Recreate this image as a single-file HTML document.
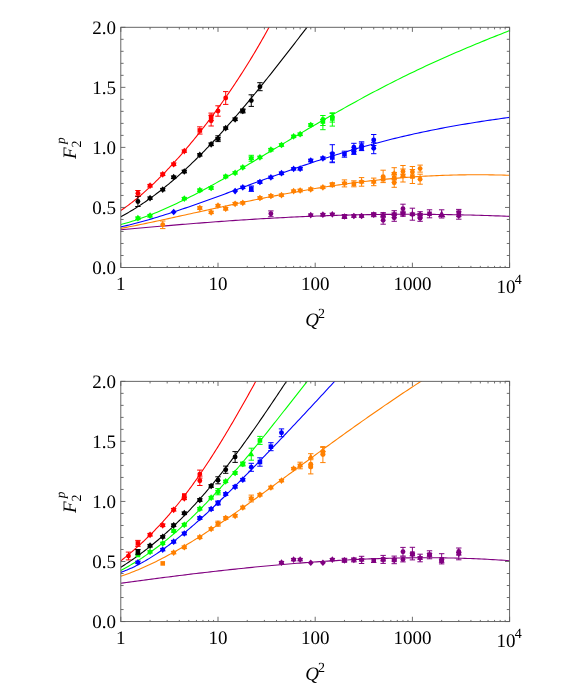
<!DOCTYPE html>
<html><head><meta charset="utf-8"><title>F2p</title>
<style>html,body{margin:0;padding:0;background:#fff}svg{display:block;will-change:transform}text{text-rendering:geometricPrecision}body{font-family:"Liberation Serif",serif}</style>
</head><body>
<svg width="581" height="686" viewBox="0 0 581 686" font-family="'Liberation Serif', serif" fill="#000">
<clipPath id="c1"><rect x="120.80" y="27.30" width="388.80" height="240.20"/></clipPath>
<g clip-path="url(#c1)">
<polyline points="120.80,229.79 123.60,229.54 126.39,229.28 129.19,229.03 131.99,228.78 134.79,228.53 137.58,228.28 140.38,228.03 143.18,227.78 145.97,227.53 148.77,227.28 151.57,227.04 154.37,226.79 157.16,226.55 159.96,226.31 162.76,226.07 165.55,225.83 168.35,225.59 171.15,225.35 173.95,225.12 176.74,224.89 179.54,224.65 182.34,224.42 185.13,224.20 187.93,223.97 190.73,223.75 193.53,223.52 196.32,223.30 199.12,223.08 201.92,222.86 204.71,222.65 207.51,222.44 210.31,222.23 213.11,222.02 215.90,221.81 218.70,221.60 221.50,221.40 224.29,221.20 227.09,221.00 229.89,220.81 232.68,220.62 235.48,220.42 238.28,220.24 241.08,220.05 243.87,219.87 246.67,219.69 249.47,219.51 252.26,219.33 255.06,219.16 257.86,218.99 260.66,218.82 263.45,218.66 266.25,218.49 269.05,218.33 271.84,218.18 274.64,218.02 277.44,217.87 280.24,217.72 283.03,217.58 285.83,217.44 288.63,217.30 291.42,217.16 294.22,217.03 297.02,216.90 299.82,216.77 302.61,216.64 305.41,216.52 308.21,216.40 311.00,216.29 313.80,216.18 316.60,216.07 319.40,215.96 322.19,215.86 324.99,215.76 327.79,215.66 330.58,215.57 333.38,215.48 336.18,215.39 338.98,215.31 341.77,215.23 344.57,215.15 347.37,215.08 350.16,215.01 352.96,214.94 355.76,214.87 358.56,214.81 361.35,214.76 364.15,214.70 366.95,214.65 369.74,214.60 372.54,214.56 375.34,214.52 378.14,214.48 380.93,214.44 383.73,214.41 386.53,214.39 389.32,214.36 392.12,214.34 394.92,214.32 397.72,214.31 400.51,214.30 403.31,214.29 406.11,214.28 408.90,214.28 411.70,214.28 414.50,214.29 417.29,214.30 420.09,214.31 422.89,214.32 425.69,214.34 428.48,214.36 431.28,214.39 434.08,214.42 436.87,214.45 439.67,214.48 442.47,214.52 445.27,214.56 448.06,214.61 450.86,214.65 453.66,214.70 456.45,214.76 459.25,214.81 462.05,214.87 464.85,214.94 467.64,215.00 470.44,215.07 473.24,215.14 476.03,215.22 478.83,215.30 481.63,215.38 484.43,215.46 487.22,215.55 490.02,215.64 492.82,215.73 495.61,215.83 498.41,215.92 501.21,216.02 504.01,216.13 506.80,216.24 509.60,216.35" fill="none" stroke="#800080" stroke-width="1.1"/>
<polyline points="120.80,228.44 123.60,227.90 126.39,227.36 129.19,226.80 131.99,226.24 134.79,225.68 137.58,225.11 140.38,224.54 143.18,223.96 145.97,223.38 148.77,222.80 151.57,222.21 154.37,221.61 157.16,221.02 159.96,220.42 162.76,219.82 165.55,219.21 168.35,218.61 171.15,218.00 173.95,217.39 176.74,216.78 179.54,216.16 182.34,215.55 185.13,214.93 187.93,214.32 190.73,213.70 193.53,213.08 196.32,212.46 199.12,211.85 201.92,211.23 204.71,210.61 207.51,210.00 210.31,209.38 213.11,208.77 215.90,208.16 218.70,207.54 221.50,206.93 224.29,206.33 227.09,205.72 229.89,205.12 232.68,204.52 235.48,203.92 238.28,203.32 241.08,202.73 243.87,202.14 246.67,201.55 249.47,200.97 252.26,200.39 255.06,199.81 257.86,199.24 260.66,198.67 263.45,198.10 266.25,197.54 269.05,196.98 271.84,196.43 274.64,195.89 277.44,195.34 280.24,194.81 283.03,194.27 285.83,193.75 288.63,193.23 291.42,192.71 294.22,192.20 297.02,191.69 299.82,191.19 302.61,190.70 305.41,190.21 308.21,189.73 311.00,189.26 313.80,188.79 316.60,188.33 319.40,187.87 322.19,187.42 324.99,186.98 327.79,186.54 330.58,186.12 333.38,185.69 336.18,185.28 338.98,184.87 341.77,184.47 344.57,184.08 347.37,183.69 350.16,183.32 352.96,182.95 355.76,182.58 358.56,182.23 361.35,181.88 364.15,181.54 366.95,181.21 369.74,180.89 372.54,180.57 375.34,180.26 378.14,179.96 380.93,179.67 383.73,179.39 386.53,179.11 389.32,178.85 392.12,178.59 394.92,178.34 397.72,178.10 400.51,177.86 403.31,177.64 406.11,177.42 408.90,177.21 411.70,177.01 414.50,176.82 417.29,176.64 420.09,176.46 422.89,176.30 425.69,176.14 428.48,175.99 431.28,175.85 434.08,175.72 436.87,175.60 439.67,175.48 442.47,175.38 445.27,175.28 448.06,175.19 450.86,175.11 453.66,175.04 456.45,174.97 459.25,174.92 462.05,174.87 464.85,174.83 467.64,174.80 470.44,174.78 473.24,174.76 476.03,174.76 478.83,174.76 481.63,174.77 484.43,174.79 487.22,174.82 490.02,174.85 492.82,174.89 495.61,174.95 498.41,175.00 501.21,175.07 504.01,175.14 506.80,175.23 509.60,175.32" fill="none" stroke="#ff8000" stroke-width="1.1"/>
<polyline points="120.80,226.91 123.60,226.27 126.39,225.61 129.19,224.93 131.99,224.23 134.79,223.52 137.58,222.78 140.38,222.03 143.18,221.26 145.97,220.47 148.77,219.67 151.57,218.86 154.37,218.03 157.16,217.19 159.96,216.33 162.76,215.46 165.55,214.58 168.35,213.69 171.15,212.79 173.95,211.87 176.74,210.95 179.54,210.01 182.34,209.07 185.13,208.12 187.93,207.16 190.73,206.19 193.53,205.22 196.32,204.24 199.12,203.25 201.92,202.25 204.71,201.26 207.51,200.25 210.31,199.24 213.11,198.23 215.90,197.21 218.70,196.19 221.50,195.17 224.29,194.15 227.09,193.12 229.89,192.09 232.68,191.06 235.48,190.03 238.28,189.00 241.08,187.96 243.87,186.93 246.67,185.90 249.47,184.87 252.26,183.84 255.06,182.81 257.86,181.78 260.66,180.76 263.45,179.74 266.25,178.71 269.05,177.70 271.84,176.68 274.64,175.67 277.44,174.67 280.24,173.66 283.03,172.66 285.83,171.67 288.63,170.68 291.42,169.70 294.22,168.72 297.02,167.74 299.82,166.78 302.61,165.81 305.41,164.86 308.21,163.91 311.00,162.96 313.80,162.03 316.60,161.10 319.40,160.17 322.19,159.26 324.99,158.35 327.79,157.45 330.58,156.56 333.38,155.67 336.18,154.80 338.98,153.93 341.77,153.07 344.57,152.21 347.37,151.37 350.16,150.53 352.96,149.71 355.76,148.89 358.56,148.08 361.35,147.28 364.15,146.49 366.95,145.71 369.74,144.93 372.54,144.17 375.34,143.42 378.14,142.67 380.93,141.93 383.73,141.21 386.53,140.49 389.32,139.78 392.12,139.08 394.92,138.39 397.72,137.71 400.51,137.04 403.31,136.38 406.11,135.73 408.90,135.09 411.70,134.46 414.50,133.83 417.29,133.22 420.09,132.61 422.89,132.01 425.69,131.43 428.48,130.85 431.28,130.28 434.08,129.72 436.87,129.17 439.67,128.62 442.47,128.09 445.27,127.56 448.06,127.04 450.86,126.53 453.66,126.03 456.45,125.53 459.25,125.05 462.05,124.57 464.85,124.10 467.64,123.63 470.44,123.17 473.24,122.72 476.03,122.28 478.83,121.84 481.63,121.41 484.43,120.99 487.22,120.57 490.02,120.15 492.82,119.75 495.61,119.34 498.41,118.95 501.21,118.55 504.01,118.16 506.80,117.78 509.60,117.40" fill="none" stroke="#0000ff" stroke-width="1.1"/>
<polyline points="120.80,224.54 123.60,223.79 126.39,223.01 129.19,222.19 131.99,221.33 134.79,220.44 137.58,219.52 140.38,218.56 143.18,217.56 145.97,216.54 148.77,215.49 151.57,214.40 154.37,213.29 157.16,212.15 159.96,210.98 162.76,209.79 165.55,208.57 168.35,207.33 171.15,206.06 173.95,204.77 176.74,203.45 179.54,202.12 182.34,200.76 185.13,199.38 187.93,197.99 190.73,196.57 193.53,195.14 196.32,193.69 199.12,192.23 201.92,190.75 204.71,189.25 207.51,187.74 210.31,186.22 213.11,184.68 215.90,183.13 218.70,181.57 221.50,180.00 224.29,178.42 227.09,176.83 229.89,175.22 232.68,173.61 235.48,172.00 238.28,170.37 241.08,168.74 243.87,167.10 246.67,165.46 249.47,163.81 252.26,162.16 255.06,160.50 257.86,158.84 260.66,157.17 263.45,155.50 266.25,153.83 269.05,152.16 271.84,150.49 274.64,148.82 277.44,147.15 280.24,145.47 283.03,143.80 285.83,142.13 288.63,140.46 291.42,138.79 294.22,137.12 297.02,135.46 299.82,133.80 302.61,132.14 305.41,130.49 308.21,128.84 311.00,127.19 313.80,125.55 316.60,123.91 319.40,122.28 322.19,120.66 324.99,119.04 327.79,117.42 330.58,115.81 333.38,114.21 336.18,112.62 338.98,111.03 341.77,109.45 344.57,107.88 347.37,106.31 350.16,104.76 352.96,103.21 355.76,101.67 358.56,100.13 361.35,98.61 364.15,97.09 366.95,95.59 369.74,94.09 372.54,92.60 375.34,91.12 378.14,89.65 380.93,88.19 383.73,86.74 386.53,85.30 389.32,83.87 392.12,82.44 394.92,81.03 397.72,79.63 400.51,78.23 403.31,76.85 406.11,75.47 408.90,74.11 411.70,72.75 414.50,71.41 417.29,70.07 420.09,68.75 422.89,67.43 425.69,66.12 428.48,64.83 431.28,63.54 434.08,62.26 436.87,60.99 439.67,59.73 442.47,58.47 445.27,57.23 448.06,55.99 450.86,54.77 453.66,53.55 456.45,52.34 459.25,51.13 462.05,49.94 464.85,48.75 467.64,47.57 470.44,46.40 473.24,45.23 476.03,44.07 478.83,42.92 481.63,41.77 484.43,40.63 487.22,39.49 490.02,38.36 492.82,37.24 495.61,36.12 498.41,35.00 501.21,33.89 504.01,32.78 506.80,31.67 509.60,30.57" fill="none" stroke="#00ff00" stroke-width="1.1"/>
<polyline points="120.80,216.70 122.17,215.97 123.54,215.22 124.90,214.47 126.27,213.70 127.64,212.92 129.01,212.13 130.37,211.33 131.74,210.51 133.11,209.68 134.48,208.85 135.84,207.99 137.21,207.13 138.58,206.26 139.95,205.37 141.31,204.47 142.68,203.56 144.05,202.64 145.42,201.70 146.78,200.75 148.15,199.80 149.52,198.83 150.89,197.85 152.26,196.85 153.62,195.85 154.99,194.83 156.36,193.80 157.73,192.77 159.09,191.72 160.46,190.65 161.83,189.58 163.20,188.50 164.56,187.40 165.93,186.29 167.30,185.18 168.67,184.05 170.03,182.91 171.40,181.76 172.77,180.59 174.14,179.42 175.51,178.24 176.87,177.04 178.24,175.84 179.61,174.62 180.98,173.40 182.34,172.16 183.71,170.92 185.08,169.66 186.45,168.39 187.81,167.11 189.18,165.83 190.55,164.53 191.92,163.22 193.28,161.90 194.65,160.58 196.02,159.24 197.39,157.89 198.75,156.53 200.12,155.17 201.49,153.79 202.86,152.41 204.23,151.01 205.59,149.61 206.96,148.20 208.33,146.77 209.70,145.34 211.06,143.90 212.43,142.46 213.80,141.00 215.17,139.53 216.53,138.06 217.90,136.58 219.27,135.09 220.64,133.59 222.00,132.08 223.37,130.56 224.74,129.04 226.11,127.51 227.47,125.97 228.84,124.42 230.21,122.87 231.58,121.31 232.95,119.74 234.31,118.16 235.68,116.58 237.05,114.99 238.42,113.39 239.78,111.79 241.15,110.18 242.52,108.56 243.89,106.94 245.25,105.31 246.62,103.68 247.99,102.03 249.36,100.39 250.72,98.73 252.09,97.07 253.46,95.41 254.83,93.74 256.19,92.06 257.56,90.38 258.93,88.70 260.30,87.01 261.67,85.31 263.03,83.61 264.40,81.91 265.77,80.20 267.14,78.48 268.50,76.77 269.87,75.05 271.24,73.32 272.61,71.59 273.97,69.86 275.34,68.12 276.71,66.38 278.08,64.64 279.44,62.90 280.81,61.15 282.18,59.40 283.55,57.64 284.92,55.89 286.28,54.13 287.65,52.37 289.02,50.61 290.39,48.84 291.75,47.08 293.12,45.31 294.49,43.54 295.86,41.77 297.22,40.00 298.59,38.23 299.96,36.46 301.33,34.68 302.69,32.91 304.06,31.14 305.43,29.36 306.80,27.59 308.16,25.82 309.53,24.05 310.90,22.28" fill="none" stroke="#000000" stroke-width="1.1"/>
<polyline points="120.80,210.46 121.89,209.72 122.99,208.98 124.08,208.22 125.18,207.45 126.27,206.67 127.37,205.87 128.46,205.07 129.56,204.25 130.65,203.42 131.75,202.58 132.84,201.73 133.94,200.87 135.03,199.99 136.13,199.11 137.22,198.21 138.32,197.31 139.41,196.39 140.51,195.46 141.60,194.53 142.70,193.58 143.79,192.62 144.89,191.66 145.98,190.68 147.08,189.69 148.17,188.70 149.27,187.69 150.36,186.68 151.46,185.65 152.55,184.62 153.65,183.58 154.74,182.53 155.84,181.47 156.93,180.40 158.03,179.32 159.12,178.23 160.22,177.14 161.31,176.03 162.41,174.92 163.50,173.80 164.60,172.67 165.69,171.53 166.79,170.39 167.88,169.24 168.98,168.07 170.07,166.90 171.17,165.73 172.26,164.54 173.36,163.35 174.45,162.15 175.55,160.94 176.64,159.72 177.74,158.50 178.83,157.27 179.93,156.03 181.02,154.78 182.12,153.53 183.21,152.26 184.31,150.99 185.40,149.72 186.50,148.43 187.59,147.14 188.69,145.84 189.78,144.53 190.88,143.22 191.97,141.89 193.07,140.56 194.16,139.23 195.26,137.88 196.35,136.53 197.45,135.17 198.54,133.80 199.64,132.43 200.73,131.04 201.83,129.65 202.92,128.26 204.02,126.85 205.11,125.44 206.21,124.02 207.30,122.59 208.40,121.15 209.49,119.71 210.59,118.26 211.68,116.80 212.78,115.33 213.87,113.85 214.97,112.37 216.06,110.88 217.16,109.38 218.25,107.87 219.35,106.35 220.44,104.83 221.54,103.29 222.63,101.75 223.73,100.20 224.82,98.64 225.92,97.08 227.01,95.50 228.11,93.91 229.20,92.32 230.30,90.72 231.39,89.11 232.49,87.48 233.58,85.85 234.68,84.21 235.77,82.56 236.87,80.90 237.96,79.24 239.06,77.56 240.15,75.87 241.25,74.17 242.34,72.46 243.44,70.74 244.53,69.01 245.63,67.27 246.72,65.52 247.82,63.76 248.91,61.99 250.01,60.20 251.10,58.41 252.20,56.60 253.29,54.79 254.39,52.96 255.48,51.12 256.58,49.26 257.67,47.40 258.77,45.52 259.86,43.63 260.96,41.73 262.05,39.82 263.15,37.89 264.24,35.95 265.34,34.00 266.43,32.03 267.53,30.05 268.62,28.05 269.72,26.05 270.81,24.02 271.91,21.99 273.00,19.94" fill="none" stroke="#ff0000" stroke-width="1.1"/>
<path d="M270.88 210.90V216.70M268.18 210.90h5.40M268.18 216.70h5.40" stroke="#800080" stroke-width="1" fill="none"/>
<circle cx="270.88" cy="213.80" r="2.45" fill="#800080"/>

<polygon points="310.75,211.75 309.63,213.15 307.85,213.42 308.50,215.10 307.85,216.78 309.63,217.05 310.75,218.45 311.88,217.05 313.65,216.78 313.00,215.10 313.65,213.42 311.88,213.15" fill="#800080"/>

<polygon points="322.90,211.35 321.77,212.75 320.00,213.02 320.65,214.70 320.00,216.38 321.77,216.65 322.90,218.05 324.02,216.65 325.80,216.38 325.15,214.70 325.80,213.02 324.02,212.75" fill="#800080"/>

<polygon points="332.32,211.05 331.19,212.45 329.41,212.72 330.07,214.40 329.41,216.08 331.19,216.35 332.32,217.75 333.44,216.35 335.22,216.08 334.57,214.40 335.22,212.72 333.44,212.45" fill="#800080"/>
<path d="M344.46 214.50V218.50M341.76 214.50h5.40M341.76 218.50h5.40" stroke="#800080" stroke-width="1" fill="none"/>
<polygon points="344.46,213.15 343.34,214.55 341.56,214.82 342.21,216.50 341.56,218.18 343.34,218.45 344.46,219.85 345.59,218.45 347.36,218.18 346.71,216.50 347.36,214.82 345.59,214.55" fill="#800080"/>

<polygon points="353.88,212.65 352.75,214.05 350.98,214.32 351.63,216.00 350.98,217.68 352.75,217.95 353.88,219.35 355.00,217.95 356.78,217.68 356.13,216.00 356.78,214.32 355.00,214.05" fill="#800080"/>

<polygon points="361.58,212.65 360.45,214.05 358.68,214.32 359.33,216.00 358.68,217.68 360.45,217.95 361.58,219.35 362.70,217.95 364.48,217.68 363.83,216.00 364.48,214.32 362.70,214.05" fill="#800080"/>
<path d="M373.72 212.70V216.70M371.02 212.70h5.40M371.02 216.70h5.40" stroke="#800080" stroke-width="1" fill="none"/>
<polygon points="373.72,211.35 372.60,212.75 370.82,213.02 371.47,214.70 370.82,216.38 372.60,216.65 373.72,218.05 374.85,216.65 376.62,216.38 375.97,214.70 376.62,213.02 374.85,212.75" fill="#800080"/>
<path d="M383.14 212.60V217.60M380.44 212.60h5.40M380.44 217.60h5.40" stroke="#800080" stroke-width="1" fill="none"/>
<polygon points="383.14,211.75 382.01,213.15 380.24,213.42 380.89,215.10 380.24,216.78 382.01,217.05 383.14,218.45 384.26,217.05 386.04,216.78 385.39,215.10 386.04,213.42 384.26,213.15" fill="#800080"/>
<path d="M383.14 216.20V224.20M380.44 216.20h5.40M380.44 224.20h5.40" stroke="#800080" stroke-width="1" fill="none"/>
<circle cx="383.14" cy="220.20" r="2.45" fill="#800080"/>
<path d="M394.22 210.70V217.70M391.52 210.70h5.40M391.52 217.70h5.40" stroke="#800080" stroke-width="1" fill="none"/>
<polygon points="394.22,210.85 393.09,212.25 391.31,212.52 391.97,214.20 391.31,215.88 393.09,216.15 394.22,217.55 395.34,216.15 397.12,215.88 396.47,214.20 397.12,212.52 395.34,212.25" fill="#800080"/>
<path d="M394.22 214.30V221.30M391.52 214.30h5.40M391.52 221.30h5.40" stroke="#800080" stroke-width="1" fill="none"/>
<circle cx="394.22" cy="217.80" r="2.45" fill="#800080"/>
<path d="M402.98 204.20V213.20M400.28 204.20h5.40M400.28 213.20h5.40" stroke="#800080" stroke-width="1" fill="none"/>
<circle cx="402.98" cy="208.70" r="2.45" fill="#800080"/>
<path d="M402.98 211.30V216.30M400.28 211.30h5.40M400.28 216.30h5.40" stroke="#800080" stroke-width="1" fill="none"/>
<polygon points="402.98,210.45 401.86,211.85 400.08,212.12 400.73,213.80 400.08,215.48 401.86,215.75 402.98,217.15 404.11,215.75 405.88,215.48 405.23,213.80 405.88,212.12 404.11,211.85" fill="#800080"/>
<path d="M412.40 208.20V220.20M409.70 208.20h5.40M409.70 220.20h5.40" stroke="#800080" stroke-width="1" fill="none"/>
<polygon points="412.40,210.85 411.28,212.25 409.50,212.52 410.15,214.20 409.50,215.88 411.28,216.15 412.40,217.55 413.53,216.15 415.30,215.88 414.65,214.20 415.30,212.52 413.53,212.25" fill="#800080"/>
<path d="M420.10 211.70V217.70M417.40 211.70h5.40M417.40 217.70h5.40" stroke="#800080" stroke-width="1" fill="none"/>
<polygon points="420.10,211.35 418.97,212.75 417.20,213.02 417.85,214.70 417.20,216.38 418.97,216.65 420.10,218.05 421.22,216.65 423.00,216.38 422.35,214.70 423.00,213.02 421.22,212.75" fill="#800080"/>
<path d="M420.10 215.30V221.30M417.40 215.30h5.40M417.40 221.30h5.40" stroke="#800080" stroke-width="1" fill="none"/>
<circle cx="420.10" cy="218.30" r="2.45" fill="#800080"/>
<path d="M429.52 209.80V217.80M426.82 209.80h5.40M426.82 217.80h5.40" stroke="#800080" stroke-width="1" fill="none"/>
<rect x="427.22" y="211.50" width="4.60" height="4.60" fill="#800080"/>
<path d="M441.66 209.80V218.00M438.96 209.80h5.40M438.96 218.00h5.40" stroke="#800080" stroke-width="1" fill="none"/>
<polygon points="441.66,210.40 445.46,217.20 437.86,217.20" fill="#800080"/>
<path d="M458.78 209.40V216.60M456.08 209.40h5.40M456.08 216.60h5.40" stroke="#800080" stroke-width="1" fill="none"/>
<rect x="456.48" y="210.30" width="4.60" height="4.60" fill="#800080"/>
<path d="M458.78 211.80V219.20M456.08 211.80h5.40M456.08 219.20h5.40" stroke="#800080" stroke-width="1" fill="none"/>
<circle cx="458.78" cy="215.80" r="2.45" fill="#800080"/>
<path d="M162.73 221.00V228.60M160.03 221.00h5.40M160.03 228.60h5.40" stroke="#ff8000" stroke-width="1" fill="none"/>
<circle cx="162.73" cy="224.80" r="2.45" fill="#ff8000"/>

<polygon points="199.82,204.65 198.69,206.05 196.91,206.32 197.57,208.00 196.91,209.68 198.69,209.95 199.82,211.35 200.94,209.95 202.72,209.68 202.07,208.00 202.72,206.32 200.94,206.05" fill="#ff8000"/>

<polygon points="211.14,209.05 210.01,210.45 208.24,210.72 208.89,212.40 208.24,214.08 210.01,214.35 211.14,215.75 212.26,214.35 214.04,214.08 213.39,212.40 214.04,210.72 212.26,210.45" fill="#ff8000"/>

<polygon points="218.00,202.25 216.88,203.65 215.10,203.92 215.75,205.60 215.10,207.28 216.88,207.55 218.00,208.95 219.12,207.55 220.90,207.28 220.25,205.60 220.90,203.92 219.12,203.65" fill="#ff8000"/>

<polygon points="225.70,205.35 224.57,206.75 222.80,207.02 223.45,208.70 222.80,210.38 224.57,210.65 225.70,212.05 226.82,210.65 228.60,210.38 227.95,208.70 228.60,207.02 226.82,206.75" fill="#ff8000"/>

<polygon points="235.12,200.45 233.99,201.85 232.21,202.12 232.87,203.80 232.21,205.48 233.99,205.75 235.12,207.15 236.24,205.75 238.02,205.48 237.37,203.80 238.02,202.12 236.24,201.85" fill="#ff8000"/>

<polygon points="242.81,199.55 241.69,200.95 239.91,201.22 240.56,202.90 239.91,204.58 241.69,204.85 242.81,206.25 243.94,204.85 245.71,204.58 245.06,202.90 245.71,201.22 243.94,200.95" fill="#ff8000"/>

<polygon points="259.93,194.65 258.80,196.05 257.03,196.32 257.68,198.00 257.03,199.68 258.80,199.95 259.93,201.35 261.05,199.95 262.83,199.68 262.18,198.00 262.83,196.32 261.05,196.05" fill="#ff8000"/>

<polygon points="270.88,192.65 269.76,194.05 267.98,194.32 268.63,196.00 267.98,197.68 269.76,197.95 270.88,199.35 272.01,197.95 273.78,197.68 273.13,196.00 273.78,194.32 272.01,194.05" fill="#ff8000"/>

<polygon points="281.49,191.75 280.37,193.15 278.59,193.42 279.24,195.10 278.59,196.78 280.37,197.05 281.49,198.45 282.62,197.05 284.39,196.78 283.74,195.10 284.39,193.42 282.62,193.15" fill="#ff8000"/>

<polygon points="293.64,187.75 292.51,189.15 290.74,189.42 291.39,191.10 290.74,192.78 292.51,193.05 293.64,194.45 294.76,193.05 296.54,192.78 295.89,191.10 296.54,189.42 294.76,189.15" fill="#ff8000"/>

<polygon points="300.14,187.15 299.02,188.55 297.24,188.82 297.89,190.50 297.24,192.18 299.02,192.45 300.14,193.85 301.27,192.45 303.04,192.18 302.39,190.50 303.04,188.82 301.27,188.55" fill="#ff8000"/>

<polygon points="310.75,185.95 309.63,187.35 307.85,187.62 308.50,189.30 307.85,190.98 309.63,191.25 310.75,192.65 311.88,191.25 313.65,190.98 313.00,189.30 313.65,187.62 311.88,187.35" fill="#ff8000"/>

<polygon points="322.90,184.05 321.77,185.45 320.00,185.72 320.65,187.40 320.00,189.08 321.77,189.35 322.90,190.75 324.02,189.35 325.80,189.08 325.15,187.40 325.80,185.72 324.02,185.45" fill="#ff8000"/>
<path d="M332.32 182.70V186.70M329.62 182.70h5.40M329.62 186.70h5.40" stroke="#ff8000" stroke-width="1" fill="none"/>
<polygon points="332.32,181.35 331.19,182.75 329.41,183.02 330.07,184.70 329.41,186.38 331.19,186.65 332.32,188.05 333.44,186.65 335.22,186.38 334.57,184.70 335.22,183.02 333.44,182.75" fill="#ff8000"/>
<path d="M344.46 179.90V186.90M341.76 179.90h5.40M341.76 186.90h5.40" stroke="#ff8000" stroke-width="1" fill="none"/>
<polygon points="344.46,180.05 343.34,181.45 341.56,181.72 342.21,183.40 341.56,185.08 343.34,185.35 344.46,186.75 345.59,185.35 347.36,185.08 346.71,183.40 347.36,181.72 345.59,181.45" fill="#ff8000"/>
<path d="M353.88 180.80V186.80M351.18 180.80h5.40M351.18 186.80h5.40" stroke="#ff8000" stroke-width="1" fill="none"/>
<rect x="351.58" y="181.50" width="4.60" height="4.60" fill="#ff8000"/>
<path d="M361.58 177.60V186.20M358.88 177.60h5.40M358.88 186.20h5.40" stroke="#ff8000" stroke-width="1" fill="none"/>
<polygon points="361.58,178.55 360.45,179.95 358.68,180.22 359.33,181.90 358.68,183.58 360.45,183.85 361.58,185.25 362.70,183.85 364.48,183.58 363.83,181.90 364.48,180.22 362.70,179.95" fill="#ff8000"/>
<path d="M373.72 178.10V185.70M371.02 178.10h5.40M371.02 185.70h5.40" stroke="#ff8000" stroke-width="1" fill="none"/>
<polygon points="373.72,178.55 372.60,179.95 370.82,180.22 371.47,181.90 370.82,183.58 372.60,183.85 373.72,185.25 374.85,183.85 376.62,183.58 375.97,181.90 376.62,180.22 374.85,179.95" fill="#ff8000"/>
<path d="M383.14 170.20V182.60M380.44 170.20h5.40M380.44 182.60h5.40" stroke="#ff8000" stroke-width="1" fill="none"/>
<circle cx="383.14" cy="176.60" r="2.45" fill="#ff8000"/>

<rect x="380.84" y="176.90" width="4.60" height="4.60" fill="#ff8000"/>
<path d="M394.22 167.70V179.70M391.52 167.70h5.40M391.52 179.70h5.40" stroke="#ff8000" stroke-width="1" fill="none"/>
<polygon points="394.22,170.35 393.09,171.75 391.31,172.02 391.97,173.70 391.31,175.38 393.09,175.65 394.22,177.05 395.34,175.65 397.12,175.38 396.47,173.70 397.12,172.02 395.34,171.75" fill="#ff8000"/>
<path d="M394.22 174.30V182.30M391.52 174.30h5.40M391.52 182.30h5.40" stroke="#ff8000" stroke-width="1" fill="none"/>
<rect x="391.92" y="176.00" width="4.60" height="4.60" fill="#ff8000"/>
<path d="M394.22 178.30V187.30M391.52 178.30h5.40M391.52 187.30h5.40" stroke="#ff8000" stroke-width="1" fill="none"/>
<circle cx="394.22" cy="182.80" r="2.45" fill="#ff8000"/>
<path d="M402.98 165.50V177.50M400.28 165.50h5.40M400.28 177.50h5.40" stroke="#ff8000" stroke-width="1" fill="none"/>
<circle cx="402.98" cy="171.50" r="2.45" fill="#ff8000"/>
<path d="M402.98 169.00V182.00M400.28 169.00h5.40M400.28 182.00h5.40" stroke="#ff8000" stroke-width="1" fill="none"/>
<polygon points="402.98,172.15 401.86,173.55 400.08,173.82 400.73,175.50 400.08,177.18 401.86,177.45 402.98,178.85 404.11,177.45 405.88,177.18 405.23,175.50 405.88,173.82 404.11,173.55" fill="#ff8000"/>
<path d="M412.40 166.50V177.50M409.70 166.50h5.40M409.70 177.50h5.40" stroke="#ff8000" stroke-width="1" fill="none"/>
<circle cx="412.40" cy="172.00" r="2.45" fill="#ff8000"/>
<path d="M412.40 169.50V183.50M409.70 169.50h5.40M409.70 183.50h5.40" stroke="#ff8000" stroke-width="1" fill="none"/>
<rect x="410.10" y="174.20" width="4.60" height="4.60" fill="#ff8000"/>
<path d="M420.10 165.10V172.10M417.40 165.10h5.40M417.40 172.10h5.40" stroke="#ff8000" stroke-width="1" fill="none"/>
<circle cx="420.10" cy="168.60" r="2.45" fill="#ff8000"/>
<path d="M420.10 174.20V184.20M417.40 174.20h5.40M417.40 184.20h5.40" stroke="#ff8000" stroke-width="1" fill="none"/>
<circle cx="420.10" cy="179.20" r="2.45" fill="#ff8000"/>

<polygon points="170.71,212.00 173.68,208.70 176.65,212.00 173.68,215.30" fill="#0000ff"/>

<polygon points="232.15,191.10 235.12,187.80 238.09,191.10 235.12,194.40" fill="#0000ff"/>

<polygon points="242.81,184.05 241.69,185.45 239.91,185.72 240.56,187.40 239.91,189.08 241.69,189.35 242.81,190.75 243.94,189.35 245.71,189.08 245.06,187.40 245.71,185.72 243.94,185.45" fill="#0000ff"/>
<path d="M251.28 186.00V191.40M248.58 186.00h5.40M248.58 191.40h5.40" stroke="#0000ff" stroke-width="1" fill="none"/>
<rect x="248.98" y="186.40" width="4.60" height="4.60" fill="#0000ff"/>

<polygon points="259.93,178.65 258.80,180.05 257.03,180.32 257.68,182.00 257.03,183.68 258.80,183.95 259.93,185.35 261.05,183.95 262.83,183.68 262.18,182.00 262.83,180.32 261.05,180.05" fill="#0000ff"/>

<polygon points="270.88,174.05 269.76,175.45 267.98,175.72 268.63,177.40 267.98,179.08 269.76,179.35 270.88,180.75 272.01,179.35 273.78,179.08 273.13,177.40 273.78,175.72 272.01,175.45" fill="#0000ff"/>

<polygon points="281.49,169.85 280.37,171.25 278.59,171.52 279.24,173.20 278.59,174.88 280.37,175.15 281.49,176.55 282.62,175.15 284.39,174.88 283.74,173.20 284.39,171.52 282.62,171.25" fill="#0000ff"/>

<polygon points="293.64,165.55 292.51,166.95 290.74,167.22 291.39,168.90 290.74,170.58 292.51,170.85 293.64,172.25 294.76,170.85 296.54,170.58 295.89,168.90 296.54,167.22 294.76,166.95" fill="#0000ff"/>

<polygon points="300.14,165.35 299.02,166.75 297.24,167.02 297.89,168.70 297.24,170.38 299.02,170.65 300.14,172.05 301.27,170.65 303.04,170.38 302.39,168.70 303.04,167.02 301.27,166.75" fill="#0000ff"/>

<polygon points="310.75,157.15 309.63,158.55 307.85,158.82 308.50,160.50 307.85,162.18 309.63,162.45 310.75,163.85 311.88,162.45 313.65,162.18 313.00,160.50 313.65,158.82 311.88,158.55" fill="#0000ff"/>

<polygon points="322.90,154.95 321.77,156.35 320.00,156.62 320.65,158.30 320.00,159.98 321.77,160.25 322.90,161.65 324.02,160.25 325.80,159.98 325.15,158.30 325.80,156.62 324.02,156.35" fill="#0000ff"/>
<path d="M332.32 144.70V162.70M329.62 144.70h5.40M329.62 162.70h5.40" stroke="#0000ff" stroke-width="1" fill="none"/>
<circle cx="332.32" cy="153.70" r="2.45" fill="#0000ff"/>
<path d="M332.32 153.00V162.00M329.62 153.00h5.40M329.62 162.00h5.40" stroke="#0000ff" stroke-width="1" fill="none"/>
<rect x="330.02" y="155.20" width="4.60" height="4.60" fill="#0000ff"/>
<path d="M344.46 151.20V157.20M341.76 151.20h5.40M341.76 157.20h5.40" stroke="#0000ff" stroke-width="1" fill="none"/>
<rect x="342.16" y="151.90" width="4.60" height="4.60" fill="#0000ff"/>
<path d="M353.88 143.30V151.30M351.18 143.30h5.40M351.18 151.30h5.40" stroke="#0000ff" stroke-width="1" fill="none"/>
<circle cx="353.88" cy="147.30" r="2.45" fill="#0000ff"/>
<path d="M353.88 149.40V154.40M351.18 149.40h5.40M351.18 154.40h5.40" stroke="#0000ff" stroke-width="1" fill="none"/>
<rect x="351.58" y="149.60" width="4.60" height="4.60" fill="#0000ff"/>
<path d="M361.58 143.10V150.60M358.88 143.10h5.40M358.88 150.60h5.40" stroke="#0000ff" stroke-width="1" fill="none"/>
<rect x="359.28" y="146.30" width="4.60" height="4.60" fill="#0000ff"/>
<path d="M361.58 141.80V146.80M358.88 141.80h5.40M358.88 146.80h5.40" stroke="#0000ff" stroke-width="1" fill="none"/>
<circle cx="361.58" cy="145.80" r="2.45" fill="#0000ff"/>
<path d="M373.72 134.50V145.50M371.02 134.50h5.40M371.02 145.50h5.40" stroke="#0000ff" stroke-width="1" fill="none"/>
<circle cx="373.72" cy="140.00" r="2.45" fill="#0000ff"/>
<path d="M373.72 142.70V153.70M371.02 142.70h5.40M371.02 153.70h5.40" stroke="#0000ff" stroke-width="1" fill="none"/>
<circle cx="373.72" cy="148.20" r="2.45" fill="#0000ff"/>

<polygon points="137.92,214.85 136.79,216.25 135.01,216.52 135.67,218.20 135.01,219.88 136.79,220.15 137.92,221.55 139.04,220.15 140.82,219.88 140.17,218.20 140.82,216.52 139.04,216.25" fill="#00ff00"/>

<polygon points="150.06,212.35 148.94,213.75 147.16,214.02 147.81,215.70 147.16,217.38 148.94,217.65 150.06,219.05 151.19,217.65 152.96,217.38 152.31,215.70 152.96,214.02 151.19,213.75" fill="#00ff00"/>

<polygon points="184.29,195.25 183.17,196.65 181.39,196.92 182.04,198.60 181.39,200.28 183.17,200.55 184.29,201.95 185.42,200.55 187.19,200.28 186.54,198.60 187.19,196.92 185.42,196.65" fill="#00ff00"/>

<polygon points="199.82,186.85 198.69,188.25 196.91,188.52 197.57,190.20 196.91,191.88 198.69,192.15 199.82,193.55 200.94,192.15 202.72,191.88 202.07,190.20 202.72,188.52 200.94,188.25" fill="#00ff00"/>

<polygon points="211.14,184.65 210.01,186.05 208.24,186.32 208.89,188.00 208.24,189.68 210.01,189.95 211.14,191.35 212.26,189.95 214.04,189.68 213.39,188.00 214.04,186.32 212.26,186.05" fill="#00ff00"/>

<polygon points="225.70,173.15 224.57,174.55 222.80,174.82 223.45,176.50 222.80,178.18 224.57,178.45 225.70,179.85 226.82,178.45 228.60,178.18 227.95,176.50 228.60,174.82 226.82,174.55" fill="#00ff00"/>

<polygon points="235.12,169.55 233.99,170.95 232.21,171.22 232.87,172.90 232.21,174.58 233.99,174.85 235.12,176.25 236.24,174.85 238.02,174.58 237.37,172.90 238.02,171.22 236.24,170.95" fill="#00ff00"/>

<polygon points="242.81,164.05 241.69,165.45 239.91,165.72 240.56,167.40 239.91,169.08 241.69,169.35 242.81,170.75 243.94,169.35 245.71,169.08 245.06,167.40 245.71,165.72 243.94,165.45" fill="#00ff00"/>
<path d="M251.28 155.30V161.30M248.58 155.30h5.40M248.58 161.30h5.40" stroke="#00ff00" stroke-width="1" fill="none"/>
<polygon points="251.28,154.95 250.16,156.35 248.38,156.62 249.03,158.30 248.38,159.98 250.16,160.25 251.28,161.65 252.41,160.25 254.18,159.98 253.53,158.30 254.18,156.62 252.41,156.35" fill="#00ff00"/>

<polygon points="259.93,154.05 258.80,155.45 257.03,155.72 257.68,157.40 257.03,159.08 258.80,159.35 259.93,160.75 261.05,159.35 262.83,159.08 262.18,157.40 262.83,155.72 261.05,155.45" fill="#00ff00"/>

<polygon points="270.88,146.35 269.76,147.75 267.98,148.02 268.63,149.70 267.98,151.38 269.76,151.65 270.88,153.05 272.01,151.65 273.78,151.38 273.13,149.70 273.78,148.02 272.01,147.75" fill="#00ff00"/>

<polygon points="281.49,141.65 280.37,143.05 278.59,143.32 279.24,145.00 278.59,146.68 280.37,146.95 281.49,148.35 282.62,146.95 284.39,146.68 283.74,145.00 284.39,143.32 282.62,143.05" fill="#00ff00"/>

<polygon points="293.64,133.05 292.51,134.45 290.74,134.72 291.39,136.40 290.74,138.08 292.51,138.35 293.64,139.75 294.76,138.35 296.54,138.08 295.89,136.40 296.54,134.72 294.76,134.45" fill="#00ff00"/>

<polygon points="300.14,130.85 299.02,132.25 297.24,132.52 297.89,134.20 297.24,135.88 299.02,136.15 300.14,137.55 301.27,136.15 303.04,135.88 302.39,134.20 303.04,132.52 301.27,132.25" fill="#00ff00"/>

<polygon points="310.75,121.65 309.63,123.05 307.85,123.33 308.50,125.00 307.85,126.67 309.63,126.95 310.75,128.35 311.88,126.95 313.65,126.67 313.00,125.00 313.65,123.33 311.88,123.05" fill="#00ff00"/>
<path d="M322.90 115.50V125.50M320.20 115.50h5.40M320.20 125.50h5.40" stroke="#00ff00" stroke-width="1" fill="none"/>
<circle cx="322.90" cy="119.50" r="2.45" fill="#00ff00"/>
<path d="M322.90 119.50V129.70M320.20 119.50h5.40M320.20 129.70h5.40" stroke="#00ff00" stroke-width="1" fill="none"/>
<rect x="320.60" y="119.20" width="4.60" height="4.60" fill="#00ff00"/>
<path d="M332.32 112.80V122.10M329.62 112.80h5.40M329.62 122.10h5.40" stroke="#00ff00" stroke-width="1" fill="none"/>
<circle cx="332.32" cy="117.00" r="2.45" fill="#00ff00"/>
<path d="M332.32 113.50V126.10M329.62 113.50h5.40M329.62 126.10h5.40" stroke="#00ff00" stroke-width="1" fill="none"/>
<rect x="330.02" y="116.20" width="4.60" height="4.60" fill="#00ff00"/>
<path d="M137.92 196.50V206.50M135.22 196.50h5.40M135.22 206.50h5.40" stroke="#000000" stroke-width="1" fill="none"/>
<circle cx="137.92" cy="201.50" r="2.45" fill="#000000"/>

<polygon points="150.06,194.75 148.94,196.15 147.16,196.42 147.81,198.10 147.16,199.78 148.94,200.05 150.06,201.45 151.19,200.05 152.96,199.78 152.31,198.10 152.96,196.42 151.19,196.15" fill="#000000"/>

<polygon points="162.73,186.25 161.60,187.65 159.83,187.92 160.48,189.60 159.83,191.28 161.60,191.55 162.73,192.95 163.85,191.55 165.63,191.28 164.98,189.60 165.63,187.92 163.85,187.65" fill="#000000"/>

<polygon points="173.68,173.85 172.56,175.25 170.78,175.52 171.43,177.20 170.78,178.88 172.56,179.15 173.68,180.55 174.81,179.15 176.58,178.88 175.93,177.20 176.58,175.52 174.81,175.25" fill="#000000"/>

<polygon points="184.29,168.15 183.17,169.55 181.39,169.82 182.04,171.50 181.39,173.18 183.17,173.45 184.29,174.85 185.42,173.45 187.19,173.18 186.54,171.50 187.19,169.82 185.42,169.55" fill="#000000"/>

<polygon points="199.82,151.55 198.69,152.95 196.91,153.22 197.57,154.90 196.91,156.58 198.69,156.85 199.82,158.25 200.94,156.85 202.72,156.58 202.07,154.90 202.72,153.22 200.94,152.95" fill="#000000"/>

<polygon points="211.14,140.95 210.01,142.35 208.24,142.62 208.89,144.30 208.24,145.98 210.01,146.25 211.14,147.65 212.26,146.25 214.04,145.98 213.39,144.30 214.04,142.62 212.26,142.35" fill="#000000"/>
<path d="M218.00 135.80V141.60M215.30 135.80h5.40M215.30 141.60h5.40" stroke="#000000" stroke-width="1" fill="none"/>
<polygon points="218.00,135.35 216.88,136.75 215.10,137.02 215.75,138.70 215.10,140.38 216.88,140.65 218.00,142.05 219.12,140.65 220.90,140.38 220.25,138.70 220.90,137.02 219.12,136.75" fill="#000000"/>

<polygon points="225.70,124.75 224.57,126.15 222.80,126.42 223.45,128.10 222.80,129.78 224.57,130.05 225.70,131.45 226.82,130.05 228.60,129.78 227.95,128.10 228.60,126.42 226.82,126.15" fill="#000000"/>

<polygon points="235.12,115.95 233.99,117.35 232.21,117.62 232.87,119.30 232.21,120.97 233.99,121.25 235.12,122.65 236.24,121.25 238.02,120.97 237.37,119.30 238.02,117.62 236.24,117.35" fill="#000000"/>
<path d="M242.81 108.95V112.95M240.11 108.95h5.40M240.11 112.95h5.40" stroke="#000000" stroke-width="1" fill="none"/>
<polygon points="242.81,107.60 241.69,109.00 239.91,109.28 240.56,110.95 239.91,112.62 241.69,112.90 242.81,114.30 243.94,112.90 245.71,112.62 245.06,110.95 245.71,109.28 243.94,109.00" fill="#000000"/>
<path d="M251.28 94.80V106.40M248.58 94.80h5.40M248.58 106.40h5.40" stroke="#000000" stroke-width="1" fill="none"/>
<circle cx="251.28" cy="100.60" r="2.45" fill="#000000"/>
<path d="M259.93 82.70V90.70M257.23 82.70h5.40M257.23 90.70h5.40" stroke="#000000" stroke-width="1" fill="none"/>
<circle cx="259.93" cy="86.70" r="2.45" fill="#000000"/>
<path d="M137.92 190.50V195.90M135.22 190.50h5.40M135.22 195.90h5.40" stroke="#ff0000" stroke-width="1" fill="none"/>
<circle cx="137.92" cy="193.20" r="2.45" fill="#ff0000"/>

<polygon points="150.06,182.35 148.94,183.75 147.16,184.02 147.81,185.70 147.16,187.38 148.94,187.65 150.06,189.05 151.19,187.65 152.96,187.38 152.31,185.70 152.96,184.02 151.19,183.75" fill="#ff0000"/>

<polygon points="162.73,170.95 161.60,172.35 159.83,172.62 160.48,174.30 159.83,175.98 161.60,176.25 162.73,177.65 163.85,176.25 165.63,175.98 164.98,174.30 165.63,172.62 163.85,172.35" fill="#ff0000"/>

<polygon points="173.68,160.85 172.56,162.25 170.78,162.52 171.43,164.20 170.78,165.88 172.56,166.15 173.68,167.55 174.81,166.15 176.58,165.88 175.93,164.20 176.58,162.52 174.81,162.25" fill="#ff0000"/>

<polygon points="184.29,147.75 183.17,149.15 181.39,149.42 182.04,151.10 181.39,152.78 183.17,153.05 184.29,154.45 185.42,153.05 187.19,152.78 186.54,151.10 187.19,149.42 185.42,149.15" fill="#ff0000"/>
<path d="M199.82 126.85V134.05M197.12 126.85h5.40M197.12 134.05h5.40" stroke="#ff0000" stroke-width="1" fill="none"/>
<rect x="197.52" y="128.15" width="4.60" height="4.60" fill="#ff0000"/>
<path d="M211.14 113.10V120.30M208.44 113.10h5.40M208.44 120.30h5.40" stroke="#ff0000" stroke-width="1" fill="none"/>
<rect x="208.84" y="114.40" width="4.60" height="4.60" fill="#ff0000"/>
<path d="M211.14 115.60V126.00M208.44 115.60h5.40M208.44 126.00h5.40" stroke="#ff0000" stroke-width="1" fill="none"/>
<circle cx="211.14" cy="120.80" r="2.45" fill="#ff0000"/>
<path d="M218.00 105.80V116.20M215.30 105.80h5.40M215.30 116.20h5.40" stroke="#ff0000" stroke-width="1" fill="none"/>
<circle cx="218.00" cy="111.00" r="2.45" fill="#ff0000"/>
<path d="M225.70 91.60V104.40M223.00 91.60h5.40M223.00 104.40h5.40" stroke="#ff0000" stroke-width="1" fill="none"/>
<circle cx="225.70" cy="98.00" r="2.45" fill="#ff0000"/>
</g>
<path d="M120.80 267.50h4.6M509.60 267.50h-4.6M120.80 255.49h2.8M509.60 255.49h-2.8M120.80 243.48h2.8M509.60 243.48h-2.8M120.80 231.47h2.8M509.60 231.47h-2.8M120.80 219.46h2.8M509.60 219.46h-2.8M120.80 207.45h4.6M509.60 207.45h-4.6M120.80 195.44h2.8M509.60 195.44h-2.8M120.80 183.43h2.8M509.60 183.43h-2.8M120.80 171.42h2.8M509.60 171.42h-2.8M120.80 159.41h2.8M509.60 159.41h-2.8M120.80 147.40h4.6M509.60 147.40h-4.6M120.80 135.39h2.8M509.60 135.39h-2.8M120.80 123.38h2.8M509.60 123.38h-2.8M120.80 111.37h2.8M509.60 111.37h-2.8M120.80 99.36h2.8M509.60 99.36h-2.8M120.80 87.35h4.6M509.60 87.35h-4.6M120.80 75.34h2.8M509.60 75.34h-2.8M120.80 63.33h2.8M509.60 63.33h-2.8M120.80 51.32h2.8M509.60 51.32h-2.8M120.80 39.31h2.8M509.60 39.31h-2.8M120.80 27.30h4.6M509.60 27.30h-4.6M120.80 267.50v-4.8M120.80 27.30v4.6M150.06 267.50v-1.6M150.06 27.30v2.1M167.18 267.50v-1.6M167.18 27.30v2.1M179.32 267.50v-1.6M179.32 27.30v2.1M188.74 267.50v-1.6M188.74 27.30v2.1M196.44 267.50v-1.6M196.44 27.30v2.1M202.94 267.50v-1.6M202.94 27.30v2.1M208.58 267.50v-1.6M208.58 27.30v2.1M213.55 267.50v-1.6M213.55 27.30v2.1M218.00 267.50v-4.8M218.00 27.30v4.6M247.26 267.50v-1.6M247.26 27.30v2.1M264.38 267.50v-1.6M264.38 27.30v2.1M276.52 267.50v-1.6M276.52 27.30v2.1M285.94 267.50v-1.6M285.94 27.30v2.1M293.64 267.50v-1.6M293.64 27.30v2.1M300.14 267.50v-1.6M300.14 27.30v2.1M305.78 267.50v-1.6M305.78 27.30v2.1M310.75 267.50v-1.6M310.75 27.30v2.1M315.20 267.50v-4.8M315.20 27.30v4.6M344.46 267.50v-1.6M344.46 27.30v2.1M361.58 267.50v-1.6M361.58 27.30v2.1M373.72 267.50v-1.6M373.72 27.30v2.1M383.14 267.50v-1.6M383.14 27.30v2.1M390.84 267.50v-1.6M390.84 27.30v2.1M397.34 267.50v-1.6M397.34 27.30v2.1M402.98 267.50v-1.6M402.98 27.30v2.1M407.95 267.50v-1.6M407.95 27.30v2.1M412.40 267.50v-4.8M412.40 27.30v4.6M441.66 267.50v-1.6M441.66 27.30v2.1M458.78 267.50v-1.6M458.78 27.30v2.1M470.92 267.50v-1.6M470.92 27.30v2.1M480.34 267.50v-1.6M480.34 27.30v2.1M488.04 267.50v-1.6M488.04 27.30v2.1M494.54 267.50v-1.6M494.54 27.30v2.1M500.18 267.50v-1.6M500.18 27.30v2.1M505.15 267.50v-1.6M505.15 27.30v2.1M509.60 267.50v-4.8M509.60 27.30v4.6" stroke="#5e5e5e" stroke-width="0.9" fill="none"/>
<rect x="120.80" y="27.30" width="388.80" height="240.20" fill="none" stroke="#5e5e5e" stroke-width="0.95"/>
<text x="116.10" y="274.20" text-anchor="end" font-size="19">0.0</text>
<text x="116.10" y="214.15" text-anchor="end" font-size="19">0.5</text>
<text x="116.10" y="154.10" text-anchor="end" font-size="19">1.0</text>
<text x="116.10" y="94.05" text-anchor="end" font-size="19">1.5</text>
<text x="116.10" y="34.00" text-anchor="end" font-size="19">2.0</text>
<text x="120.80" y="289.80" text-anchor="middle" font-size="19">1</text>
<text x="218.00" y="289.80" text-anchor="middle" font-size="19">10</text>
<text x="315.20" y="289.80" text-anchor="middle" font-size="19">100</text>
<text x="412.40" y="289.80" text-anchor="middle" font-size="19">1000</text>
<text x="496.40" y="292.50" text-anchor="start" font-size="19">10<tspan dx="-0.6" dy="-8.3" font-size="14">4</tspan></text>
<text x="305.20" y="325.50" text-anchor="start" font-size="19"><tspan font-style="italic">Q</tspan><tspan dx="-1" dy="-8" font-size="14">2</tspan></text>
<g transform="translate(76,158.90) rotate(-90)"><text x="0" y="0" font-size="19" font-style="italic">F</text><text x="11.5" y="5.2" font-size="14">2</text><text x="14.8" y="-11" font-size="13.5" font-style="italic">p</text></g>
<clipPath id="c2"><rect x="120.80" y="381.35" width="388.80" height="240.20"/></clipPath>
<g clip-path="url(#c2)">
<polyline points="120.80,583.27 123.60,582.88 126.39,582.50 129.19,582.11 131.99,581.73 134.79,581.35 137.58,580.97 140.38,580.60 143.18,580.22 145.97,579.85 148.77,579.48 151.57,579.11 154.37,578.74 157.16,578.38 159.96,578.01 162.76,577.65 165.55,577.29 168.35,576.94 171.15,576.58 173.95,576.23 176.74,575.88 179.54,575.53 182.34,575.18 185.13,574.84 187.93,574.50 190.73,574.16 193.53,573.82 196.32,573.49 199.12,573.16 201.92,572.83 204.71,572.50 207.51,572.18 210.31,571.85 213.11,571.53 215.90,571.22 218.70,570.90 221.50,570.59 224.29,570.28 227.09,569.98 229.89,569.67 232.68,569.37 235.48,569.08 238.28,568.78 241.08,568.49 243.87,568.20 246.67,567.91 249.47,567.63 252.26,567.35 255.06,567.07 257.86,566.80 260.66,566.53 263.45,566.26 266.25,566.00 269.05,565.74 271.84,565.48 274.64,565.23 277.44,564.98 280.24,564.73 283.03,564.49 285.83,564.25 288.63,564.01 291.42,563.78 294.22,563.55 297.02,563.32 299.82,563.10 302.61,562.88 305.41,562.67 308.21,562.46 311.00,562.25 313.80,562.05 316.60,561.85 319.40,561.66 322.19,561.47 324.99,561.28 327.79,561.10 330.58,560.92 333.38,560.75 336.18,560.58 338.98,560.42 341.77,560.26 344.57,560.10 347.37,559.95 350.16,559.80 352.96,559.66 355.76,559.52 358.56,559.39 361.35,559.26 364.15,559.14 366.95,559.02 369.74,558.91 372.54,558.80 375.34,558.69 378.14,558.60 380.93,558.50 383.73,558.41 386.53,558.33 389.32,558.25 392.12,558.18 394.92,558.11 397.72,558.05 400.51,558.00 403.31,557.95 406.11,557.90 408.90,557.86 411.70,557.83 414.50,557.80 417.29,557.78 420.09,557.76 422.89,557.75 425.69,557.75 428.48,557.75 431.28,557.76 434.08,557.77 436.87,557.79 439.67,557.82 442.47,557.85 445.27,557.89 448.06,557.94 450.86,557.99 453.66,558.05 456.45,558.11 459.25,558.19 462.05,558.26 464.85,558.35 467.64,558.44 470.44,558.54 473.24,558.65 476.03,558.76 478.83,558.88 481.63,559.01 484.43,559.14 487.22,559.29 490.02,559.44 492.82,559.59 495.61,559.76 498.41,559.93 501.21,560.11 504.01,560.30 506.80,560.49 509.60,560.70" fill="none" stroke="#800080" stroke-width="1.1"/>
<polyline points="120.80,576.28 122.99,575.53 125.18,574.77 127.37,573.97 129.55,573.16 131.74,572.32 133.93,571.46 136.12,570.57 138.31,569.66 140.50,568.73 142.68,567.78 144.87,566.80 147.06,565.81 149.25,564.80 151.44,563.76 153.63,562.71 155.82,561.64 158.00,560.54 160.19,559.44 162.38,558.31 164.57,557.16 166.76,556.00 168.95,554.82 171.14,553.63 173.32,552.42 175.51,551.19 177.70,549.95 179.89,548.69 182.08,547.42 184.27,546.13 186.45,544.83 188.64,543.52 190.83,542.20 193.02,540.86 195.21,539.51 197.40,538.14 199.59,536.77 201.77,535.38 203.96,533.99 206.15,532.58 208.34,531.16 210.53,529.73 212.72,528.30 214.91,526.85 217.09,525.39 219.28,523.93 221.47,522.45 223.66,520.97 225.85,519.48 228.04,517.98 230.22,516.48 232.41,514.97 234.60,513.45 236.79,511.92 238.98,510.39 241.17,508.86 243.36,507.31 245.54,505.76 247.73,504.21 249.92,502.65 252.11,501.09 254.30,499.52 256.49,497.95 258.67,496.38 260.86,494.80 263.05,493.22 265.24,491.63 267.43,490.04 269.62,488.45 271.81,486.86 273.99,485.26 276.18,483.66 278.37,482.06 280.56,480.46 282.75,478.86 284.94,477.25 287.13,475.65 289.31,474.04 291.50,472.44 293.69,470.83 295.88,469.22 298.07,467.61 300.26,466.01 302.44,464.40 304.63,462.79 306.82,461.19 309.01,459.58 311.20,457.98 313.39,456.37 315.58,454.77 317.76,453.17 319.95,451.57 322.14,449.98 324.33,448.38 326.52,446.79 328.71,445.20 330.89,443.61 333.08,442.02 335.27,440.44 337.46,438.85 339.65,437.28 341.84,435.70 344.03,434.13 346.21,432.56 348.40,430.99 350.59,429.43 352.78,427.87 354.97,426.31 357.16,424.76 359.35,423.21 361.53,421.66 363.72,420.12 365.91,418.58 368.10,417.05 370.29,415.52 372.48,413.99 374.66,412.47 376.85,410.95 379.04,409.44 381.23,407.93 383.42,406.42 385.61,404.92 387.80,403.43 389.98,401.94 392.17,400.45 394.36,398.97 396.55,397.49 398.74,396.02 400.93,394.55 403.12,393.08 405.30,391.63 407.49,390.17 409.68,388.72 411.87,387.28 414.06,385.84 416.25,384.40 418.43,382.97 420.62,381.54 422.81,380.12 425.00,378.70" fill="none" stroke="#ff8000" stroke-width="1.1"/>
<polyline points="120.80,572.39 122.37,571.82 123.93,571.22 125.50,570.60 127.07,569.96 128.63,569.29 130.20,568.60 131.77,567.89 133.34,567.15 134.90,566.39 136.47,565.61 138.04,564.80 139.60,563.98 141.17,563.13 142.74,562.26 144.30,561.38 145.87,560.47 147.44,559.54 149.00,558.60 150.57,557.63 152.14,556.65 153.71,555.65 155.27,554.63 156.84,553.59 158.41,552.54 159.97,551.46 161.54,550.38 163.11,549.27 164.67,548.16 166.24,547.02 167.81,545.87 169.37,544.71 170.94,543.53 172.51,542.33 174.07,541.13 175.64,539.91 177.21,538.67 178.78,537.42 180.34,536.16 181.91,534.89 183.48,533.61 185.04,532.31 186.61,531.00 188.18,529.68 189.74,528.35 191.31,527.01 192.88,525.65 194.44,524.29 196.01,522.92 197.58,521.53 199.15,520.14 200.71,518.74 202.28,517.33 203.85,515.91 205.41,514.48 206.98,513.04 208.55,511.59 210.11,510.14 211.68,508.68 213.25,507.21 214.81,505.73 216.38,504.25 217.95,502.76 219.52,501.26 221.08,499.75 222.65,498.24 224.22,496.73 225.78,495.20 227.35,493.67 228.92,492.14 230.48,490.60 232.05,489.05 233.62,487.50 235.18,485.95 236.75,484.39 238.32,482.82 239.88,481.25 241.45,479.67 243.02,478.10 244.59,476.51 246.15,474.92 247.72,473.33 249.29,471.74 250.85,470.14 252.42,468.54 253.99,466.93 255.55,465.32 257.12,463.71 258.69,462.10 260.25,460.48 261.82,458.86 263.39,457.23 264.96,455.61 266.52,453.98 268.09,452.34 269.66,450.71 271.22,449.07 272.79,447.44 274.36,445.79 275.92,444.15 277.49,442.51 279.06,440.86 280.62,439.21 282.19,437.56 283.76,435.90 285.33,434.25 286.89,432.59 288.46,430.93 290.03,429.27 291.59,427.61 293.16,425.95 294.73,424.28 296.29,422.62 297.86,420.95 299.43,419.28 300.99,417.61 302.56,415.93 304.13,414.26 305.69,412.58 307.26,410.90 308.83,409.22 310.40,407.54 311.96,405.86 313.53,404.18 315.10,402.49 316.66,400.80 318.23,399.11 319.80,397.42 321.36,395.73 322.93,394.03 324.50,392.34 326.06,390.64 327.63,388.94 329.20,387.24 330.77,385.53 332.33,383.82 333.90,382.12 335.47,380.40 337.03,378.69 338.60,376.98" fill="none" stroke="#0000ff" stroke-width="1.1"/>
<polyline points="120.80,570.41 122.17,569.69 123.54,568.96 124.91,568.21 126.28,567.46 127.65,566.69 129.02,565.91 130.39,565.12 131.76,564.31 133.13,563.50 134.51,562.67 135.88,561.83 137.25,560.98 138.62,560.11 139.99,559.23 141.36,558.35 142.73,557.45 144.10,556.53 145.47,555.61 146.84,554.67 148.21,553.72 149.58,552.76 150.95,551.79 152.32,550.81 153.69,549.81 155.06,548.80 156.43,547.78 157.80,546.75 159.17,545.71 160.54,544.65 161.92,543.59 163.29,542.51 164.66,541.42 166.03,540.32 167.40,539.20 168.77,538.08 170.14,536.94 171.51,535.79 172.88,534.63 174.25,533.46 175.62,532.28 176.99,531.09 178.36,529.88 179.73,528.67 181.10,527.44 182.47,526.20 183.84,524.95 185.21,523.69 186.58,522.42 187.95,521.14 189.33,519.85 190.70,518.55 192.07,517.24 193.44,515.91 194.81,514.58 196.18,513.23 197.55,511.88 198.92,510.52 200.29,509.14 201.66,507.76 203.03,506.36 204.40,504.96 205.77,503.54 207.14,502.12 208.51,500.69 209.88,499.25 211.25,497.80 212.62,496.33 213.99,494.87 215.36,493.39 216.74,491.90 218.11,490.40 219.48,488.90 220.85,487.39 222.22,485.86 223.59,484.33 224.96,482.80 226.33,481.25 227.70,479.70 229.07,478.14 230.44,476.57 231.81,474.99 233.18,473.41 234.55,471.81 235.92,470.22 237.29,468.61 238.66,467.00 240.03,465.38 241.40,463.75 242.77,462.12 244.15,460.49 245.52,458.84 246.89,457.19 248.26,455.54 249.63,453.88 251.00,452.21 252.37,450.54 253.74,448.86 255.11,447.18 256.48,445.49 257.85,443.80 259.22,442.10 260.59,440.41 261.96,438.70 263.33,436.99 264.70,435.28 266.07,433.57 267.44,431.85 268.81,430.13 270.18,428.40 271.56,426.67 272.93,424.94 274.30,423.21 275.67,421.48 277.04,419.74 278.41,418.00 279.78,416.26 281.15,414.52 282.52,412.78 283.89,411.03 285.26,409.29 286.63,407.54 288.00,405.80 289.37,404.05 290.74,402.30 292.11,400.56 293.48,398.81 294.85,397.07 296.22,395.32 297.59,393.58 298.97,391.84 300.34,390.10 301.71,388.36 303.08,386.63 304.45,384.90 305.82,383.16 307.19,381.44 308.56,379.71 309.93,377.99 311.30,376.27" fill="none" stroke="#00ff00" stroke-width="1.1"/>
<polyline points="120.80,567.31 122.02,566.53 123.24,565.75 124.46,564.95 125.68,564.15 126.90,563.34 128.13,562.53 129.35,561.71 130.57,560.88 131.79,560.04 133.01,559.19 134.23,558.34 135.45,557.48 136.67,556.61 137.89,555.73 139.11,554.85 140.33,553.95 141.55,553.05 142.78,552.14 144.00,551.22 145.22,550.29 146.44,549.36 147.66,548.41 148.88,547.46 150.10,546.49 151.32,545.52 152.54,544.54 153.76,543.55 154.98,542.54 156.21,541.53 157.43,540.52 158.65,539.49 159.87,538.45 161.09,537.40 162.31,536.34 163.53,535.27 164.75,534.20 165.97,533.11 167.19,532.01 168.41,530.91 169.63,529.79 170.86,528.66 172.08,527.53 173.30,526.38 174.52,525.22 175.74,524.06 176.96,522.88 178.18,521.69 179.40,520.50 180.62,519.29 181.84,518.07 183.06,516.85 184.28,515.61 185.51,514.36 186.73,513.10 187.95,511.84 189.17,510.56 190.39,509.27 191.61,507.97 192.83,506.67 194.05,505.35 195.27,504.02 196.49,502.68 197.71,501.33 198.94,499.97 200.16,498.61 201.38,497.23 202.60,495.84 203.82,494.44 205.04,493.04 206.26,491.62 207.48,490.19 208.70,488.75 209.92,487.31 211.14,485.85 212.36,484.39 213.59,482.91 214.81,481.43 216.03,479.93 217.25,478.43 218.47,476.92 219.69,475.40 220.91,473.87 222.13,472.33 223.35,470.78 224.57,469.22 225.79,467.66 227.02,466.08 228.24,464.50 229.46,462.91 230.68,461.31 231.90,459.70 233.12,458.08 234.34,456.46 235.56,454.83 236.78,453.19 238.00,451.54 239.22,449.88 240.44,448.22 241.67,446.55 242.89,444.87 244.11,443.18 245.33,441.49 246.55,439.79 247.77,438.08 248.99,436.37 250.21,434.65 251.43,432.93 252.65,431.19 253.87,429.45 255.09,427.71 256.32,425.96 257.54,424.20 258.76,422.44 259.98,420.67 261.20,418.90 262.42,417.12 263.64,415.34 264.86,413.55 266.08,411.76 267.30,409.96 268.52,408.16 269.75,406.36 270.97,404.55 272.19,402.74 273.41,400.92 274.63,399.10 275.85,397.28 277.07,395.45 278.29,393.63 279.51,391.79 280.73,389.96 281.95,388.13 283.17,386.29 284.40,384.45 285.62,382.61 286.84,380.76 288.06,378.92 289.28,377.08 290.50,375.23" fill="none" stroke="#000000" stroke-width="1.1"/>
<polyline points="120.80,560.91 121.80,560.11 122.80,559.30 123.80,558.49 124.80,557.68 125.80,556.86 126.80,556.03 127.79,555.20 128.79,554.36 129.79,553.52 130.79,552.67 131.79,551.82 132.79,550.96 133.79,550.09 134.79,549.22 135.79,548.34 136.79,547.46 137.79,546.57 138.79,545.67 139.79,544.76 140.79,543.85 141.78,542.93 142.78,542.01 143.78,541.07 144.78,540.13 145.78,539.18 146.78,538.22 147.78,537.26 148.78,536.28 149.78,535.30 150.78,534.31 151.78,533.32 152.78,532.31 153.78,531.30 154.78,530.27 155.77,529.24 156.77,528.20 157.77,527.15 158.77,526.09 159.77,525.03 160.77,523.95 161.77,522.87 162.77,521.77 163.77,520.67 164.77,519.56 165.77,518.44 166.77,517.31 167.77,516.17 168.77,515.02 169.76,513.86 170.76,512.69 171.76,511.52 172.76,510.33 173.76,509.13 174.76,507.93 175.76,506.71 176.76,505.49 177.76,504.25 178.76,503.01 179.76,501.75 180.76,500.49 181.76,499.21 182.76,497.93 183.75,496.64 184.75,495.34 185.75,494.02 186.75,492.70 187.75,491.37 188.75,490.03 189.75,488.68 190.75,487.32 191.75,485.95 192.75,484.57 193.75,483.18 194.75,481.78 195.75,480.37 196.75,478.95 197.74,477.53 198.74,476.09 199.74,474.64 200.74,473.19 201.74,471.72 202.74,470.25 203.74,468.77 204.74,467.28 205.74,465.78 206.74,464.27 207.74,462.75 208.74,461.22 209.74,459.69 210.74,458.14 211.73,456.59 212.73,455.03 213.73,453.46 214.73,451.88 215.73,450.30 216.73,448.70 217.73,447.10 218.73,445.49 219.73,443.87 220.73,442.25 221.73,440.61 222.73,438.97 223.73,437.32 224.73,435.67 225.72,434.01 226.72,432.34 227.72,430.66 228.72,428.98 229.72,427.29 230.72,425.59 231.72,423.89 232.72,422.18 233.72,420.47 234.72,418.75 235.72,417.02 236.72,415.29 237.72,413.55 238.72,411.81 239.71,410.06 240.71,408.31 241.71,406.55 242.71,404.79 243.71,403.02 244.71,401.25 245.71,399.47 246.71,397.69 247.71,395.91 248.71,394.12 249.71,392.33 250.71,390.54 251.71,388.74 252.71,386.95 253.70,385.14 254.70,383.34 255.70,381.53 256.70,379.73 257.70,377.92 258.70,376.10 259.70,374.29" fill="none" stroke="#ff0000" stroke-width="1.1"/>

<polygon points="281.49,559.25 280.37,560.65 278.59,560.93 279.24,562.60 278.59,564.27 280.37,564.55 281.49,565.95 282.62,564.55 284.39,564.27 283.74,562.60 284.39,560.93 282.62,560.65" fill="#800080"/>

<polygon points="293.64,556.25 292.51,557.65 290.74,557.93 291.39,559.60 290.74,561.27 292.51,561.55 293.64,562.95 294.76,561.55 296.54,561.27 295.89,559.60 296.54,557.93 294.76,557.65" fill="#800080"/>

<polygon points="300.14,556.25 299.02,557.65 297.24,557.93 297.89,559.60 297.24,561.27 299.02,561.55 300.14,562.95 301.27,561.55 303.04,561.27 302.39,559.60 303.04,557.93 301.27,557.65" fill="#800080"/>

<polygon points="307.78,562.80 310.75,559.50 313.72,562.80 310.75,566.10" fill="#800080"/>

<polygon points="319.93,562.80 322.90,559.50 325.87,562.80 322.90,566.10" fill="#800080"/>

<polygon points="332.32,556.25 331.19,557.65 329.41,557.93 330.07,559.60 329.41,561.27 331.19,561.55 332.32,562.95 333.44,561.55 335.22,561.27 334.57,559.60 335.22,557.93 333.44,557.65" fill="#800080"/>
<path d="M344.46 558.30V562.30M341.76 558.30h5.40M341.76 562.30h5.40" stroke="#800080" stroke-width="1" fill="none"/>
<polygon points="344.46,556.95 343.34,558.35 341.56,558.62 342.21,560.30 341.56,561.97 343.34,562.25 344.46,563.65 345.59,562.25 347.36,561.97 346.71,560.30 347.36,558.62 345.59,558.35" fill="#800080"/>
<path d="M353.88 557.90V561.90M351.18 557.90h5.40M351.18 561.90h5.40" stroke="#800080" stroke-width="1" fill="none"/>
<polygon points="353.88,556.55 352.75,557.95 350.98,558.23 351.63,559.90 350.98,561.57 352.75,561.85 353.88,563.25 355.00,561.85 356.78,561.57 356.13,559.90 356.78,558.23 355.00,557.95" fill="#800080"/>
<path d="M361.58 556.30V563.50M358.88 556.30h5.40M358.88 563.50h5.40" stroke="#800080" stroke-width="1" fill="none"/>
<polygon points="361.58,556.55 360.45,557.95 358.68,558.23 359.33,559.90 358.68,561.57 360.45,561.85 361.58,563.25 362.70,561.85 364.48,561.57 363.83,559.90 364.48,558.23 362.70,557.95" fill="#800080"/>
<path d="M373.72 558.50V562.50M371.02 558.50h5.40M371.02 562.50h5.40" stroke="#800080" stroke-width="1" fill="none"/>
<rect x="371.42" y="558.20" width="4.60" height="4.60" fill="#800080"/>
<path d="M383.14 555.40V563.40M380.44 555.40h5.40M380.44 563.40h5.40" stroke="#800080" stroke-width="1" fill="none"/>
<rect x="380.84" y="557.10" width="4.60" height="4.60" fill="#800080"/>

<polygon points="383.14,556.25 382.01,557.65 380.24,557.93 380.89,559.60 380.24,561.27 382.01,561.55 383.14,562.95 384.26,561.55 386.04,561.27 385.39,559.60 386.04,557.93 384.26,557.65" fill="#800080"/>
<path d="M394.22 556.10V563.70M391.52 556.10h5.40M391.52 563.70h5.40" stroke="#800080" stroke-width="1" fill="none"/>
<rect x="391.92" y="557.60" width="4.60" height="4.60" fill="#800080"/>

<polygon points="394.22,556.55 393.09,557.95 391.31,558.23 391.97,559.90 391.31,561.57 393.09,561.85 394.22,563.25 395.34,561.85 397.12,561.57 396.47,559.90 397.12,558.23 395.34,557.95" fill="#800080"/>
<path d="M402.98 547.40V556.00M400.28 547.40h5.40M400.28 556.00h5.40" stroke="#800080" stroke-width="1" fill="none"/>
<circle cx="402.98" cy="551.70" r="2.45" fill="#800080"/>
<path d="M402.98 556.90V561.90M400.28 556.90h5.40M400.28 561.90h5.40" stroke="#800080" stroke-width="1" fill="none"/>
<circle cx="402.98" cy="559.40" r="2.45" fill="#800080"/>
<path d="M412.40 547.30V559.90M409.70 547.30h5.40M409.70 559.90h5.40" stroke="#800080" stroke-width="1" fill="none"/>
<rect x="410.10" y="551.30" width="4.60" height="4.60" fill="#800080"/>

<polygon points="412.40,551.15 411.28,552.55 409.50,552.83 410.15,554.50 409.50,556.17 411.28,556.45 412.40,557.85 413.53,556.45 415.30,556.17 414.65,554.50 415.30,552.83 413.53,552.55" fill="#800080"/>
<path d="M420.10 554.20V561.80M417.40 554.20h5.40M417.40 561.80h5.40" stroke="#800080" stroke-width="1" fill="none"/>
<polygon points="420.10,554.65 418.97,556.05 417.20,556.33 417.85,558.00 417.20,559.67 418.97,559.95 420.10,561.35 421.22,559.95 423.00,559.67 422.35,558.00 423.00,556.33 421.22,556.05" fill="#800080"/>
<path d="M429.52 550.80V558.80M426.82 550.80h5.40M426.82 558.80h5.40" stroke="#800080" stroke-width="1" fill="none"/>
<rect x="427.22" y="552.50" width="4.60" height="4.60" fill="#800080"/>

<polygon points="429.52,551.45 428.39,552.85 426.61,553.12 427.27,554.80 426.61,556.47 428.39,556.75 429.52,558.15 430.64,556.75 432.42,556.47 431.77,554.80 432.42,553.12 430.64,552.85" fill="#800080"/>
<path d="M441.66 553.70V563.90M438.96 553.70h5.40M438.96 563.90h5.40" stroke="#800080" stroke-width="1" fill="none"/>
<rect x="439.36" y="557.10" width="4.60" height="4.60" fill="#800080"/>

<polygon points="441.66,557.65 440.54,559.05 438.76,559.33 439.41,561.00 438.76,562.67 440.54,562.95 441.66,564.35 442.79,562.95 444.56,562.67 443.91,561.00 444.56,559.33 442.79,559.05" fill="#800080"/>
<path d="M458.78 548.00V559.80M456.08 548.00h5.40M456.08 559.80h5.40" stroke="#800080" stroke-width="1" fill="none"/>
<circle cx="458.78" cy="551.40" r="2.45" fill="#800080"/>

<polygon points="458.78,550.45 457.65,551.85 455.88,552.12 456.53,553.80 455.88,555.47 457.65,555.75 458.78,557.15 459.90,555.75 461.68,555.47 461.03,553.80 461.68,552.12 459.90,551.85" fill="#800080"/>

<rect x="160.43" y="561.10" width="4.60" height="4.60" fill="#ff8000"/>

<polygon points="173.68,549.25 172.56,550.65 170.78,550.93 171.43,552.60 170.78,554.27 172.56,554.55 173.68,555.95 174.81,554.55 176.58,554.27 175.93,552.60 176.58,550.93 174.81,550.65" fill="#ff8000"/>

<polygon points="184.29,543.85 183.17,545.25 181.39,545.53 182.04,547.20 181.39,548.88 183.17,549.15 184.29,550.55 185.42,549.15 187.19,548.88 186.54,547.20 187.19,545.53 185.42,545.25" fill="#ff8000"/>

<polygon points="199.82,533.85 198.69,535.25 196.91,535.53 197.57,537.20 196.91,538.88 198.69,539.15 199.82,540.55 200.94,539.15 202.72,538.88 202.07,537.20 202.72,535.53 200.94,535.25" fill="#ff8000"/>

<polygon points="211.14,525.55 210.01,526.95 208.24,527.23 208.89,528.90 208.24,530.57 210.01,530.85 211.14,532.25 212.26,530.85 214.04,530.57 213.39,528.90 214.04,527.23 212.26,526.95" fill="#ff8000"/>
<path d="M218.00 521.20V526.20M215.30 521.20h5.40M215.30 526.20h5.40" stroke="#ff8000" stroke-width="1" fill="none"/>
<polygon points="218.00,520.35 216.88,521.75 215.10,522.03 215.75,523.70 215.10,525.38 216.88,525.65 218.00,527.05 219.12,525.65 220.90,525.38 220.25,523.70 220.90,522.03 219.12,521.75" fill="#ff8000"/>

<polygon points="225.70,514.65 224.57,516.05 222.80,516.33 223.45,518.00 222.80,519.67 224.57,519.95 225.70,521.35 226.82,519.95 228.60,519.67 227.95,518.00 228.60,516.33 226.82,516.05" fill="#ff8000"/>

<polygon points="235.12,512.45 233.99,513.85 232.21,514.12 232.87,515.80 232.21,517.47 233.99,517.75 235.12,519.15 236.24,517.75 238.02,517.47 237.37,515.80 238.02,514.12 236.24,513.85" fill="#ff8000"/>

<polygon points="242.81,504.15 241.69,505.55 239.91,505.82 240.56,507.50 239.91,509.18 241.69,509.45 242.81,510.85 243.94,509.45 245.71,509.18 245.06,507.50 245.71,505.82 243.94,505.55" fill="#ff8000"/>
<path d="M251.28 495.10V501.90M248.58 495.10h5.40M248.58 501.90h5.40" stroke="#ff8000" stroke-width="1" fill="none"/>
<polygon points="251.28,495.15 250.16,496.55 248.38,496.82 249.03,498.50 248.38,500.18 250.16,500.45 251.28,501.85 252.41,500.45 254.18,500.18 253.53,498.50 254.18,496.82 252.41,496.55" fill="#ff8000"/>

<polygon points="259.93,491.45 258.80,492.85 257.03,493.12 257.68,494.80 257.03,496.48 258.80,496.75 259.93,498.15 261.05,496.75 262.83,496.48 262.18,494.80 262.83,493.12 261.05,492.85" fill="#ff8000"/>

<polygon points="270.88,484.15 269.76,485.55 267.98,485.82 268.63,487.50 267.98,489.18 269.76,489.45 270.88,490.85 272.01,489.45 273.78,489.18 273.13,487.50 273.78,485.82 272.01,485.55" fill="#ff8000"/>

<polygon points="281.49,477.25 280.37,478.65 278.59,478.93 279.24,480.60 278.59,482.28 280.37,482.55 281.49,483.95 282.62,482.55 284.39,482.28 283.74,480.60 284.39,478.93 282.62,478.65" fill="#ff8000"/>

<polygon points="293.64,465.30 292.51,466.70 290.74,466.97 291.39,468.65 290.74,470.32 292.51,470.60 293.64,472.00 294.76,470.60 296.54,470.32 295.89,468.65 296.54,466.97 294.76,466.70" fill="#ff8000"/>
<path d="M300.14 462.20V468.80M297.44 462.20h5.40M297.44 468.80h5.40" stroke="#ff8000" stroke-width="1" fill="none"/>
<polygon points="300.14,462.15 299.02,463.55 297.24,463.82 297.89,465.50 297.24,467.18 299.02,467.45 300.14,468.85 301.27,467.45 303.04,467.18 302.39,465.50 303.04,463.82 301.27,463.55" fill="#ff8000"/>
<path d="M310.75 453.70V459.70M308.05 453.70h5.40M308.05 459.70h5.40" stroke="#ff8000" stroke-width="1" fill="none"/>
<polygon points="310.75,453.60 313.70,458.87 307.81,458.87" fill="#ff8000"/>
<path d="M310.75 457.90V473.90M308.05 457.90h5.40M308.05 473.90h5.40" stroke="#ff8000" stroke-width="1" fill="none"/>
<rect x="308.45" y="463.60" width="4.60" height="4.60" fill="#ff8000"/>

<circle cx="310.75" cy="464.20" r="2.45" fill="#ff8000"/>

<circle cx="310.75" cy="467.00" r="2.45" fill="#ff8000"/>
<path d="M322.90 446.60V462.60M320.20 446.60h5.40M320.20 462.60h5.40" stroke="#ff8000" stroke-width="1" fill="none"/>
<rect x="320.60" y="450.80" width="4.60" height="4.60" fill="#ff8000"/>
<path d="M322.90 447.40V451.40M320.20 447.40h5.40M320.20 451.40h5.40" stroke="#ff8000" stroke-width="1" fill="none"/>
<circle cx="322.90" cy="451.40" r="2.45" fill="#ff8000"/>

<circle cx="322.90" cy="454.60" r="2.45" fill="#ff8000"/>

<polygon points="137.92,559.05 136.79,560.45 135.01,560.73 135.67,562.40 135.01,564.07 136.79,564.35 137.92,565.75 139.04,564.35 140.82,564.07 140.17,562.40 140.82,560.73 139.04,560.45" fill="#0000ff"/>

<polygon points="162.73,546.25 161.60,547.65 159.83,547.93 160.48,549.60 159.83,551.27 161.60,551.55 162.73,552.95 163.85,551.55 165.63,551.27 164.98,549.60 165.63,547.93 163.85,547.65" fill="#0000ff"/>

<polygon points="173.68,538.35 172.56,539.75 170.78,540.03 171.43,541.70 170.78,543.38 172.56,543.65 173.68,545.05 174.81,543.65 176.58,543.38 175.93,541.70 176.58,540.03 174.81,539.75" fill="#0000ff"/>

<polygon points="184.29,530.15 183.17,531.55 181.39,531.83 182.04,533.50 181.39,535.17 183.17,535.45 184.29,536.85 185.42,535.45 187.19,535.17 186.54,533.50 187.19,531.83 185.42,531.55" fill="#0000ff"/>

<polygon points="199.82,514.65 198.69,516.05 196.91,516.33 197.57,518.00 196.91,519.67 198.69,519.95 199.82,521.35 200.94,519.95 202.72,519.67 202.07,518.00 202.72,516.33 200.94,516.05" fill="#0000ff"/>

<polygon points="211.14,505.65 210.01,507.05 208.24,507.32 208.89,509.00 208.24,510.68 210.01,510.95 211.14,512.35 212.26,510.95 214.04,510.68 213.39,509.00 214.04,507.32 212.26,507.05" fill="#0000ff"/>
<path d="M218.00 501.00V505.00M215.30 501.00h5.40M215.30 505.00h5.40" stroke="#0000ff" stroke-width="1" fill="none"/>
<polygon points="218.00,499.65 216.88,501.05 215.10,501.32 215.75,503.00 215.10,504.68 216.88,504.95 218.00,506.35 219.12,504.95 220.90,504.68 220.25,503.00 220.90,501.32 219.12,501.05" fill="#0000ff"/>

<polygon points="225.70,490.65 224.57,492.05 222.80,492.32 223.45,494.00 222.80,495.68 224.57,495.95 225.70,497.35 226.82,495.95 228.60,495.68 227.95,494.00 228.60,492.32 226.82,492.05" fill="#0000ff"/>

<polygon points="235.12,483.45 233.99,484.85 232.21,485.12 232.87,486.80 232.21,488.48 233.99,488.75 235.12,490.15 236.24,488.75 238.02,488.48 237.37,486.80 238.02,485.12 236.24,484.85" fill="#0000ff"/>

<polygon points="242.81,476.35 241.69,477.75 239.91,478.02 240.56,479.70 239.91,481.38 241.69,481.65 242.81,483.05 243.94,481.65 245.71,481.38 245.06,479.70 245.71,478.02 243.94,477.75" fill="#0000ff"/>
<path d="M251.28 463.30V471.30M248.58 463.30h5.40M248.58 471.30h5.40" stroke="#0000ff" stroke-width="1" fill="none"/>
<circle cx="251.28" cy="467.30" r="2.45" fill="#0000ff"/>
<path d="M259.93 457.80V466.20M257.23 457.80h5.40M257.23 466.20h5.40" stroke="#0000ff" stroke-width="1" fill="none"/>
<rect x="257.63" y="459.70" width="4.60" height="4.60" fill="#0000ff"/>
<path d="M270.88 442.70V450.70M268.18 442.70h5.40M268.18 450.70h5.40" stroke="#0000ff" stroke-width="1" fill="none"/>
<rect x="268.58" y="444.40" width="4.60" height="4.60" fill="#0000ff"/>
<path d="M281.49 428.90V436.70M278.79 428.90h5.40M278.79 436.70h5.40" stroke="#0000ff" stroke-width="1" fill="none"/>
<circle cx="281.49" cy="432.80" r="2.45" fill="#0000ff"/>

<rect x="135.62" y="552.70" width="4.60" height="4.60" fill="#00ff00"/>

<polygon points="150.06,548.55 148.94,549.95 147.16,550.23 147.81,551.90 147.16,553.57 148.94,553.85 150.06,555.25 151.19,553.85 152.96,553.57 152.31,551.90 152.96,550.23 151.19,549.95" fill="#00ff00"/>

<polygon points="162.73,540.05 161.60,541.45 159.83,541.73 160.48,543.40 159.83,545.07 161.60,545.35 162.73,546.75 163.85,545.35 165.63,545.07 164.98,543.40 165.63,541.73 163.85,541.45" fill="#00ff00"/>

<polygon points="173.68,527.65 172.56,529.05 170.78,529.33 171.43,531.00 170.78,532.67 172.56,532.95 173.68,534.35 174.81,532.95 176.58,532.67 175.93,531.00 176.58,529.33 174.81,529.05" fill="#00ff00"/>

<polygon points="184.29,521.45 183.17,522.85 181.39,523.12 182.04,524.80 181.39,526.47 183.17,526.75 184.29,528.15 185.42,526.75 187.19,526.47 186.54,524.80 187.19,523.12 185.42,522.85" fill="#00ff00"/>

<polygon points="199.82,505.35 198.69,506.75 196.91,507.02 197.57,508.70 196.91,510.38 198.69,510.65 199.82,512.05 200.94,510.65 202.72,510.38 202.07,508.70 202.72,507.02 200.94,506.75" fill="#00ff00"/>

<polygon points="211.14,494.35 210.01,495.75 208.24,496.02 208.89,497.70 208.24,499.38 210.01,499.65 211.14,501.05 212.26,499.65 214.04,499.38 213.39,497.70 214.04,496.02 212.26,495.75" fill="#00ff00"/>
<path d="M218.00 488.60V494.80M215.30 488.60h5.40M215.30 494.80h5.40" stroke="#00ff00" stroke-width="1" fill="none"/>
<polygon points="218.00,488.35 216.88,489.75 215.10,490.02 215.75,491.70 215.10,493.38 216.88,493.65 218.00,495.05 219.12,493.65 220.90,493.38 220.25,491.70 220.90,490.02 219.12,489.75" fill="#00ff00"/>

<polygon points="225.70,478.05 224.57,479.45 222.80,479.72 223.45,481.40 222.80,483.07 224.57,483.35 225.70,484.75 226.82,483.35 228.60,483.07 227.95,481.40 228.60,479.72 226.82,479.45" fill="#00ff00"/>

<polygon points="235.12,469.65 233.99,471.05 232.21,471.32 232.87,473.00 232.21,474.68 233.99,474.95 235.12,476.35 236.24,474.95 238.02,474.68 237.37,473.00 238.02,471.32 236.24,471.05" fill="#00ff00"/>
<path d="M242.81 462.00V466.00M240.11 462.00h5.40M240.11 466.00h5.40" stroke="#00ff00" stroke-width="1" fill="none"/>
<polygon points="242.81,460.65 241.69,462.05 239.91,462.32 240.56,464.00 239.91,465.68 241.69,465.95 242.81,467.35 243.94,465.95 245.71,465.68 245.06,464.00 245.71,462.32 243.94,462.05" fill="#00ff00"/>
<path d="M251.28 448.20V460.20M248.58 448.20h5.40M248.58 460.20h5.40" stroke="#00ff00" stroke-width="1" fill="none"/>
<polygon points="251.28,451.10 254.23,456.37 248.34,456.37" fill="#00ff00"/>
<path d="M259.93 436.40V444.40M257.23 436.40h5.40M257.23 444.40h5.40" stroke="#00ff00" stroke-width="1" fill="none"/>
<rect x="257.63" y="438.10" width="4.60" height="4.60" fill="#00ff00"/>
<path d="M137.92 549.50V554.70M135.22 549.50h5.40M135.22 554.70h5.40" stroke="#000000" stroke-width="1" fill="none"/>
<rect x="135.62" y="549.80" width="4.60" height="4.60" fill="#000000"/>

<polygon points="150.06,542.35 148.94,543.75 147.16,544.03 147.81,545.70 147.16,547.38 148.94,547.65 150.06,549.05 151.19,547.65 152.96,547.38 152.31,545.70 152.96,544.03 151.19,543.75" fill="#000000"/>

<polygon points="162.73,533.55 161.60,534.95 159.83,535.23 160.48,536.90 159.83,538.57 161.60,538.85 162.73,540.25 163.85,538.85 165.63,538.57 164.98,536.90 165.63,535.23 163.85,534.95" fill="#000000"/>

<polygon points="173.68,521.95 172.56,523.35 170.78,523.62 171.43,525.30 170.78,526.97 172.56,527.25 173.68,528.65 174.81,527.25 176.58,526.97 175.93,525.30 176.58,523.62 174.81,523.35" fill="#000000"/>

<polygon points="184.29,509.85 183.17,511.25 181.39,511.53 182.04,513.20 181.39,514.88 183.17,515.15 184.29,516.55 185.42,515.15 187.19,514.88 186.54,513.20 187.19,511.53 185.42,511.25" fill="#000000"/>

<polygon points="199.82,496.65 198.69,498.05 196.91,498.32 197.57,500.00 196.91,501.68 198.69,501.95 199.82,503.35 200.94,501.95 202.72,501.68 202.07,500.00 202.72,498.32 200.94,498.05" fill="#000000"/>

<polygon points="211.14,482.65 210.01,484.05 208.24,484.32 208.89,486.00 208.24,487.68 210.01,487.95 211.14,489.35 212.26,487.95 214.04,487.68 213.39,486.00 214.04,484.32 212.26,484.05" fill="#000000"/>
<path d="M218.00 476.80V483.80M215.30 476.80h5.40M215.30 483.80h5.40" stroke="#000000" stroke-width="1" fill="none"/>
<circle cx="218.00" cy="480.30" r="2.45" fill="#000000"/>
<path d="M225.70 466.10V473.30M223.00 466.10h5.40M223.00 473.30h5.40" stroke="#000000" stroke-width="1" fill="none"/>
<circle cx="225.70" cy="469.70" r="2.45" fill="#000000"/>
<path d="M235.12 451.60V462.40M232.42 451.60h5.40M232.42 462.40h5.40" stroke="#000000" stroke-width="1" fill="none"/>
<circle cx="235.12" cy="457.00" r="2.45" fill="#000000"/>
<path d="M128.50 552.10V559.90M125.80 552.10h5.40M125.80 559.90h5.40" stroke="#ff0000" stroke-width="1" fill="none"/>
<circle cx="128.50" cy="556.00" r="2.45" fill="#ff0000"/>
<path d="M137.92 540.40V546.40M135.22 540.40h5.40M135.22 546.40h5.40" stroke="#ff0000" stroke-width="1" fill="none"/>
<rect x="135.62" y="541.10" width="4.60" height="4.60" fill="#ff0000"/>

<polygon points="150.06,531.45 148.94,532.85 147.16,533.12 147.81,534.80 147.16,536.47 148.94,536.75 150.06,538.15 151.19,536.75 152.96,536.47 152.31,534.80 152.96,533.12 151.19,532.85" fill="#ff0000"/>

<polygon points="162.73,521.95 161.60,523.35 159.83,523.62 160.48,525.30 159.83,526.97 161.60,527.25 162.73,528.65 163.85,527.25 165.63,526.97 164.98,525.30 165.63,523.62 163.85,523.35" fill="#ff0000"/>

<polygon points="173.68,506.45 172.56,507.85 170.78,508.12 171.43,509.80 170.78,511.48 172.56,511.75 173.68,513.15 174.81,511.75 176.58,511.48 175.93,509.80 176.58,508.12 174.81,507.85" fill="#ff0000"/>

<rect x="181.99" y="493.20" width="4.60" height="4.60" fill="#ff0000"/>

<polygon points="184.29,495.05 183.17,496.45 181.39,496.72 182.04,498.40 181.39,500.07 183.17,500.35 184.29,501.75 185.42,500.35 187.19,500.07 186.54,498.40 187.19,496.72 185.42,496.45" fill="#ff0000"/>
<path d="M199.82 470.10V478.10M197.12 470.10h5.40M197.12 478.10h5.40" stroke="#ff0000" stroke-width="1" fill="none"/>
<circle cx="199.82" cy="474.10" r="2.45" fill="#ff0000"/>
<path d="M199.82 476.10V485.50M197.12 476.10h5.40M197.12 485.50h5.40" stroke="#ff0000" stroke-width="1" fill="none"/>
<circle cx="199.82" cy="480.80" r="2.45" fill="#ff0000"/>
</g>
<path d="M120.80 621.55h4.6M509.60 621.55h-4.6M120.80 609.54h2.8M509.60 609.54h-2.8M120.80 597.53h2.8M509.60 597.53h-2.8M120.80 585.52h2.8M509.60 585.52h-2.8M120.80 573.51h2.8M509.60 573.51h-2.8M120.80 561.50h4.6M509.60 561.50h-4.6M120.80 549.49h2.8M509.60 549.49h-2.8M120.80 537.48h2.8M509.60 537.48h-2.8M120.80 525.47h2.8M509.60 525.47h-2.8M120.80 513.46h2.8M509.60 513.46h-2.8M120.80 501.45h4.6M509.60 501.45h-4.6M120.80 489.44h2.8M509.60 489.44h-2.8M120.80 477.43h2.8M509.60 477.43h-2.8M120.80 465.42h2.8M509.60 465.42h-2.8M120.80 453.41h2.8M509.60 453.41h-2.8M120.80 441.40h4.6M509.60 441.40h-4.6M120.80 429.39h2.8M509.60 429.39h-2.8M120.80 417.38h2.8M509.60 417.38h-2.8M120.80 405.37h2.8M509.60 405.37h-2.8M120.80 393.36h2.8M509.60 393.36h-2.8M120.80 381.35h4.6M509.60 381.35h-4.6M120.80 621.55v-4.8M120.80 381.35v4.6M150.06 621.55v-1.6M150.06 381.35v2.1M167.18 621.55v-1.6M167.18 381.35v2.1M179.32 621.55v-1.6M179.32 381.35v2.1M188.74 621.55v-1.6M188.74 381.35v2.1M196.44 621.55v-1.6M196.44 381.35v2.1M202.94 621.55v-1.6M202.94 381.35v2.1M208.58 621.55v-1.6M208.58 381.35v2.1M213.55 621.55v-1.6M213.55 381.35v2.1M218.00 621.55v-4.8M218.00 381.35v4.6M247.26 621.55v-1.6M247.26 381.35v2.1M264.38 621.55v-1.6M264.38 381.35v2.1M276.52 621.55v-1.6M276.52 381.35v2.1M285.94 621.55v-1.6M285.94 381.35v2.1M293.64 621.55v-1.6M293.64 381.35v2.1M300.14 621.55v-1.6M300.14 381.35v2.1M305.78 621.55v-1.6M305.78 381.35v2.1M310.75 621.55v-1.6M310.75 381.35v2.1M315.20 621.55v-4.8M315.20 381.35v4.6M344.46 621.55v-1.6M344.46 381.35v2.1M361.58 621.55v-1.6M361.58 381.35v2.1M373.72 621.55v-1.6M373.72 381.35v2.1M383.14 621.55v-1.6M383.14 381.35v2.1M390.84 621.55v-1.6M390.84 381.35v2.1M397.34 621.55v-1.6M397.34 381.35v2.1M402.98 621.55v-1.6M402.98 381.35v2.1M407.95 621.55v-1.6M407.95 381.35v2.1M412.40 621.55v-4.8M412.40 381.35v4.6M441.66 621.55v-1.6M441.66 381.35v2.1M458.78 621.55v-1.6M458.78 381.35v2.1M470.92 621.55v-1.6M470.92 381.35v2.1M480.34 621.55v-1.6M480.34 381.35v2.1M488.04 621.55v-1.6M488.04 381.35v2.1M494.54 621.55v-1.6M494.54 381.35v2.1M500.18 621.55v-1.6M500.18 381.35v2.1M505.15 621.55v-1.6M505.15 381.35v2.1M509.60 621.55v-4.8M509.60 381.35v4.6" stroke="#5e5e5e" stroke-width="0.9" fill="none"/>
<rect x="120.80" y="381.35" width="388.80" height="240.20" fill="none" stroke="#5e5e5e" stroke-width="0.95"/>
<text x="116.10" y="628.25" text-anchor="end" font-size="19">0.0</text>
<text x="116.10" y="568.20" text-anchor="end" font-size="19">0.5</text>
<text x="116.10" y="508.15" text-anchor="end" font-size="19">1.0</text>
<text x="116.10" y="448.10" text-anchor="end" font-size="19">1.5</text>
<text x="116.10" y="388.05" text-anchor="end" font-size="19">2.0</text>
<text x="120.80" y="643.85" text-anchor="middle" font-size="19">1</text>
<text x="218.00" y="643.85" text-anchor="middle" font-size="19">10</text>
<text x="315.20" y="643.85" text-anchor="middle" font-size="19">100</text>
<text x="412.40" y="643.85" text-anchor="middle" font-size="19">1000</text>
<text x="496.40" y="646.55" text-anchor="start" font-size="19">10<tspan dx="-0.6" dy="-8.3" font-size="14">4</tspan></text>
<text x="305.20" y="679.55" text-anchor="start" font-size="19"><tspan font-style="italic">Q</tspan><tspan dx="-1" dy="-8" font-size="14">2</tspan></text>
<g transform="translate(76,512.95) rotate(-90)"><text x="0" y="0" font-size="19" font-style="italic">F</text><text x="11.5" y="5.2" font-size="14">2</text><text x="14.8" y="-11" font-size="13.5" font-style="italic">p</text></g>
</svg>
</body></html>
